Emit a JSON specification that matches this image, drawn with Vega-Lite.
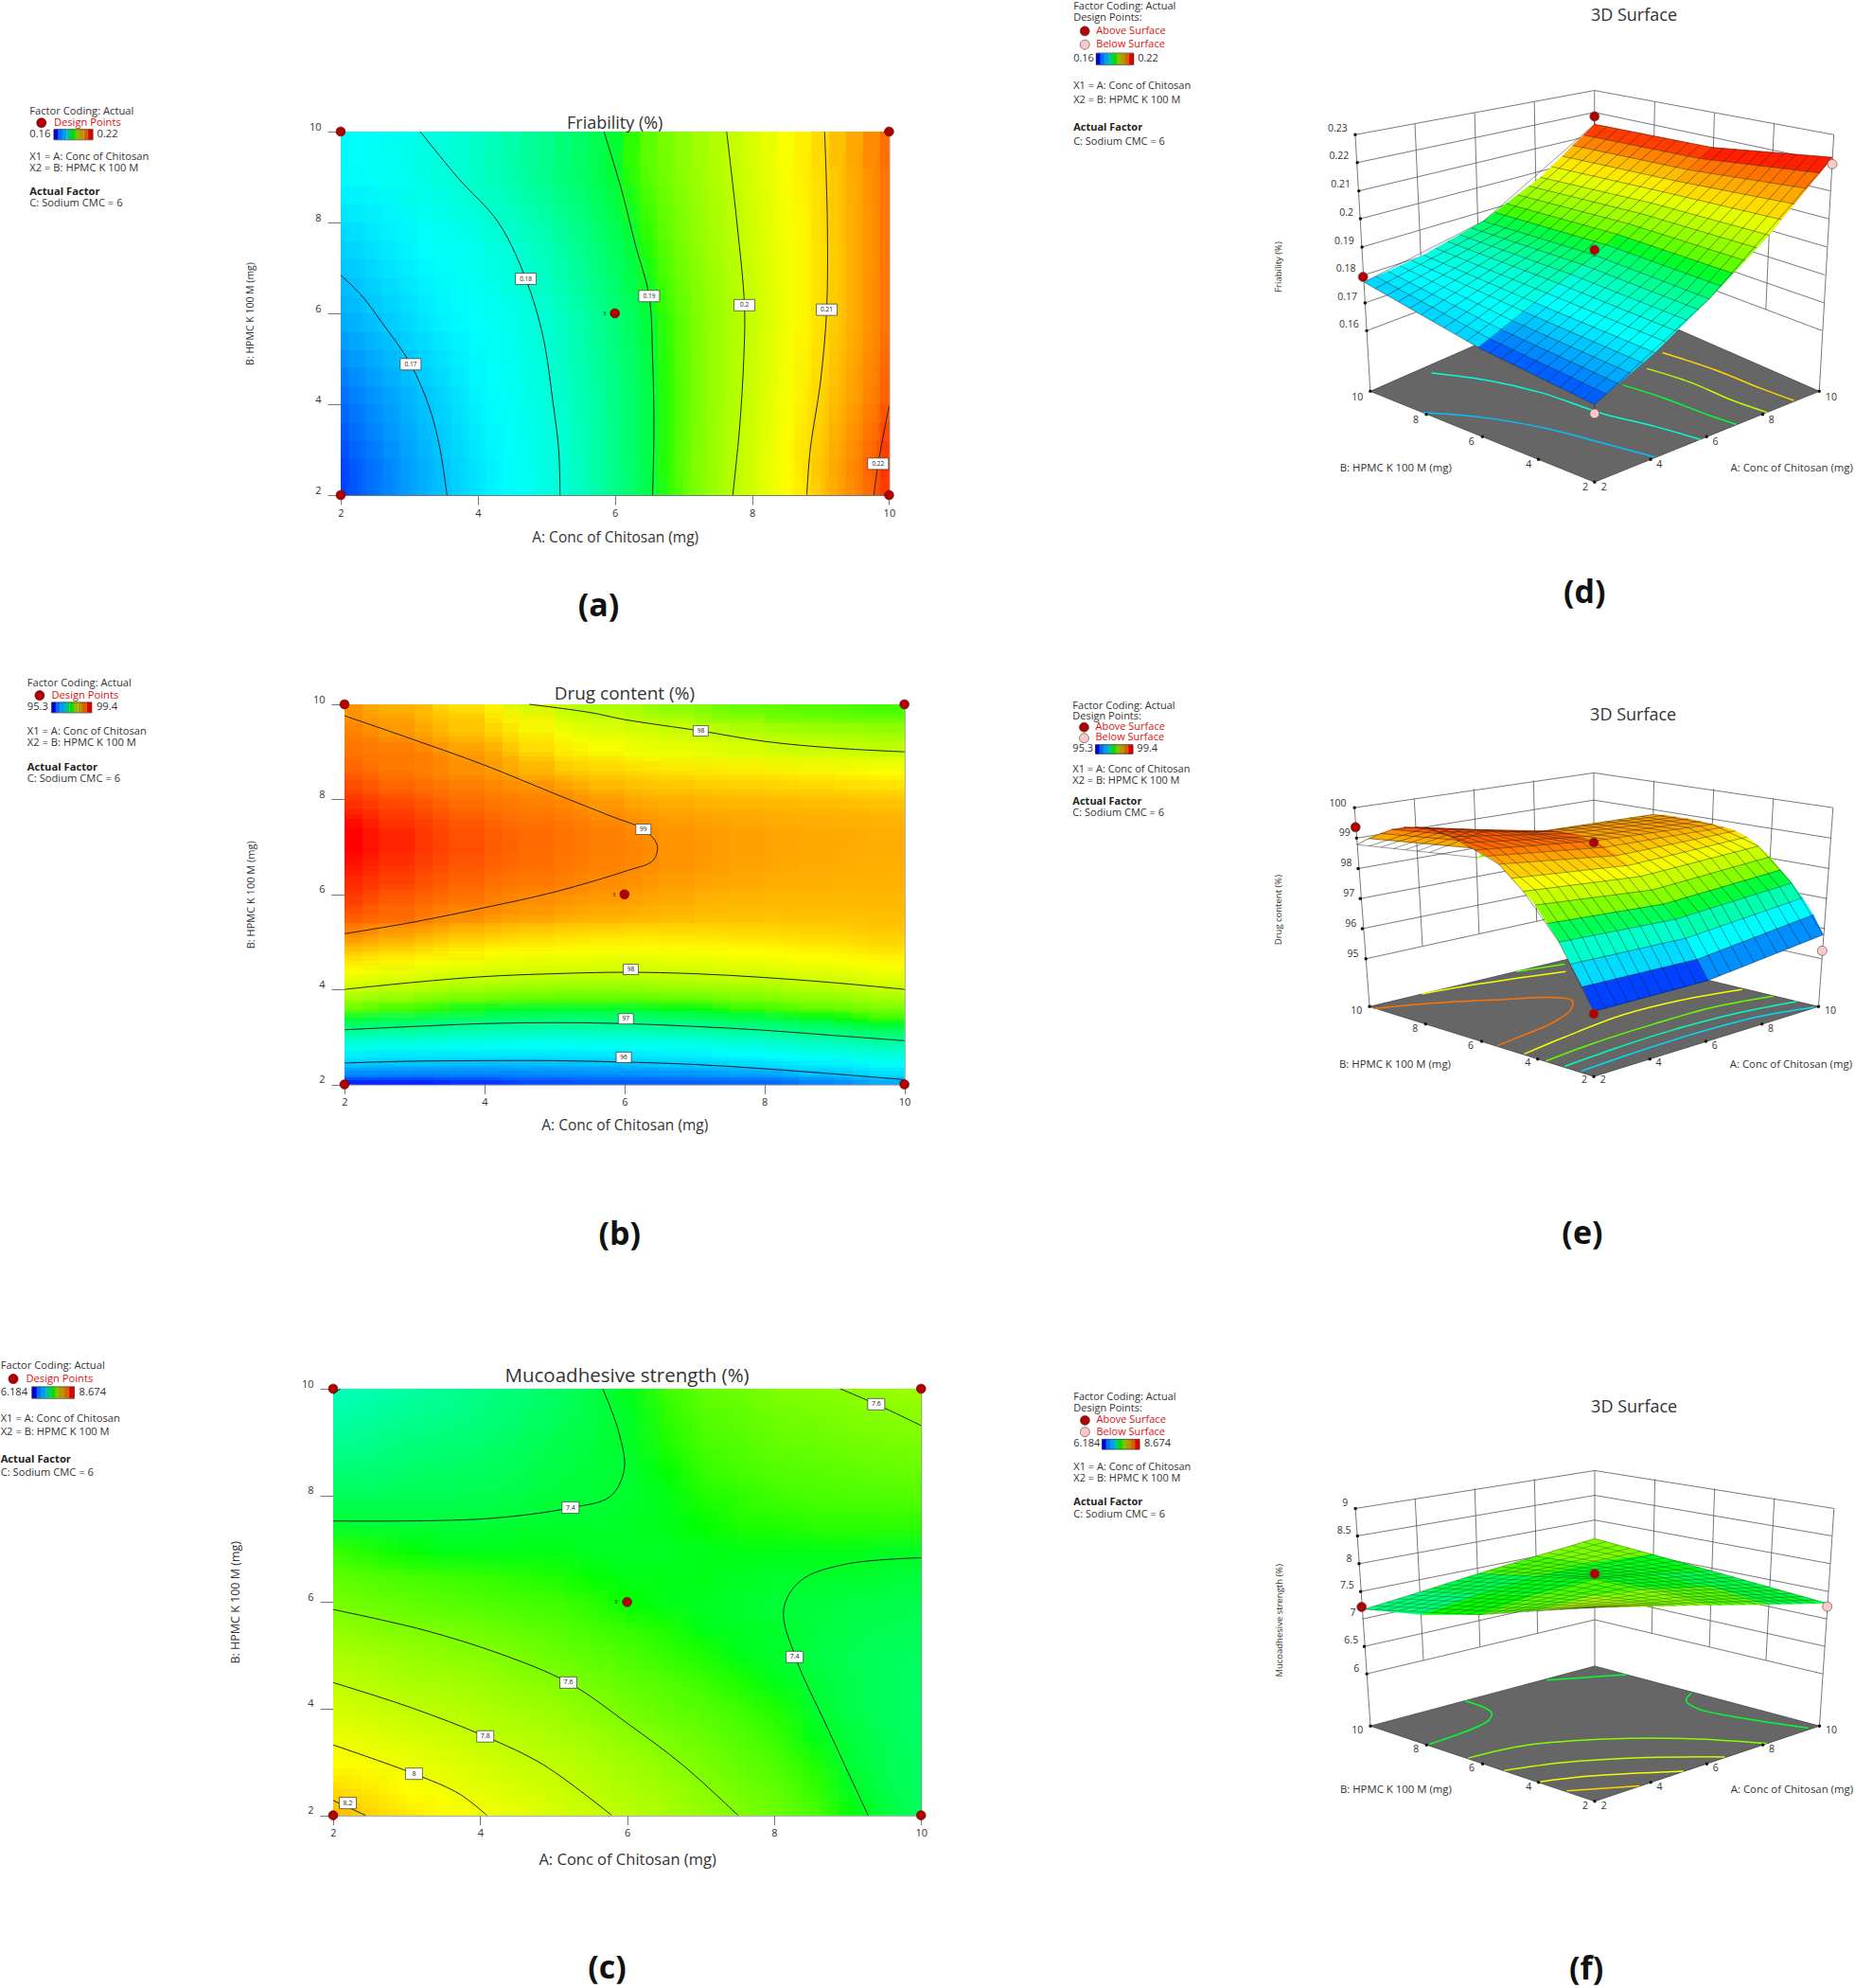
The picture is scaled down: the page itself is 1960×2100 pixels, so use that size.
{"$schema":"https://vega.github.io/schema/vega-lite/v6.json","padding":0,"background":"white","spacing":0,"resolve":{"scale":{"color":"independent","fill":"independent","stroke":"independent"}},
"config":{"view":{"stroke":null},"font":"Open Sans","axis":{"grid":false,"domain":false,"tickColor":"#777","labelFont":"Open Sans","labelFontSize":11,"labelColor":"#333","labelFlush":false,"titleFont":"Open Sans","titleFontWeight":"normal","titleColor":"#333","format":"d"},"title":{"font":"Open Sans","fontWeight":"normal","color":"#333","anchor":"middle"}},
"vconcat":[
{"hconcat":[
{"width":359.4,"height":575.5,"resolve":{"scale":{"color":"independent"}},"encoding":{"x":{"field":"x","type":"quantitative","scale":{"domain":[0,575],"nice":false,"zero":false},"axis":null},"y":{"field":"y","type":"quantitative","scale":{"domain":[1631.8,128],"nice":false,"zero":false},"axis":null}},"layer":[
{"data":{"values":[{"t":"Factor Coding: Actual","x":50,"y":73},{"t":"0.16","x":50,"y":136},{"t":"0.22","x":164,"y":136},{"t":"X1 = A: Conc of Chitosan","x":50,"y":199},{"t":"X2 = B: HPMC K 100 M","x":50,"y":231},{"t":"C: Sodium CMC  = 6","x":50,"y":326}]},"mark":{"type":"text","align":"left","baseline":"middle","fontSize":11.2,"color":"#333"},"encoding":{"text":{"field":"t"}}},
{"data":{"values":[{"t":"Design Points","x":91,"y":104}]},"mark":{"type":"text","align":"left","baseline":"middle","fontSize":11.2,"color":"#e01010"},"encoding":{"text":{"field":"t"}}},
{"data":{"values":[{"t":"Actual Factor","x":50,"y":294}]},"mark":{"type":"text","align":"left","baseline":"middle","fontSize":11.2,"fontWeight":"bold","color":"#222"},"encoding":{"text":{"field":"t"}}},
{"data":{"values":[{"t":"(a)","x":1012,"y":1440}]},"mark":{"type":"text","align":"center","baseline":"middle","fontSize":34,"fontWeight":"bold","color":"#111"},"encoding":{"text":{"field":"t"}}},
{"data":{"values":[{"x":70,"y":104}]},"mark":{"type":"point","filled":true,"size":100,"opacity":1,"color":"#b00000","stroke":"#600","strokeWidth":0.7}},
{"data":{"values":[{"x":95,"y":136,"v":0.16},{"x":102,"y":136,"v":0.1675},{"x":109,"y":136,"v":0.175},{"x":117,"y":136,"v":0.1825},{"x":124,"y":136,"v":0.19},{"x":131,"y":136,"v":0.1975},{"x":138,"y":136,"v":0.205},{"x":146,"y":136,"v":0.2125},{"x":153,"y":136,"v":0.22}]},"mark":{"type":"rect","width":5,"height":11},"encoding":{"color":{"field":"v","type":"quantitative","scale":{"domain":[0.16,0.19,0.22],"range":["#0000e0","#00e000","#e00000"]},"legend":null}}},
{"data":{"values":[{"x":91,"x2":157,"y":122,"y2":151}]},"mark":{"type":"rect","fillOpacity":0,"stroke":"#333","strokeWidth":0.7},"encoding":{"x2":{"field":"x2"},"y2":{"field":"y2"}}}
]},
{"width":579.4,"height":384,"title":{"text":"Friability (%)","fontSize":18,"offset":-12},"view":{"stroke":"#777"},"encoding":{"x":{"field":"a","type":"quantitative","scale":{"domain":[2,10],"nice":false,"zero":false},"axis":{"values":[2,4,6,8,10],"title":"A: Conc of Chitosan (mg)","titleFontSize":15.5,"tickSize":10,"labelPadding":3,"titlePadding":13}},"y":{"field":"b","type":"quantitative","scale":{"domain":[2,10],"nice":false,"zero":false},"axis":{"values":[2,4,6,8,10],"title":"B: HPMC K 100 M  (mg)","titleFontSize":10.5,"tickSize":14,"labelPadding":7,"labelOffset":-5,"titlePadding":57}}},"layer":[
{"data":{"name":"ha","values":[
{"a":2,"b":2.8,"v":0.1615},{"a":2.25,"b":2.8,"v":0.163},{"a":2.5,"b":2.8,"v":0.1644},{"a":2.75,"b":2.8,"v":0.1659},{"a":3,"b":2.8,"v":0.1674},{"a":3.25,"b":2.8,"v":0.1688},{"a":3.5,"b":2.8,"v":0.1703},{"a":3.75,"b":2.8,"v":0.1718},{"a":4,"b":2.8,"v":0.1733},{"a":4.25,"b":2.8,"v":0.1747},{"a":4.5,"b":2.8,"v":0.1762},{"a":4.75,"b":2.8,"v":0.1777},{"a":5,"b":2.8,"v":0.1792},{"a":5.25,"b":2.8,"v":0.1808},{"a":5.5,"b":2.8,"v":0.1826},{"a":5.75,"b":2.8,"v":0.1843},{"a":6,"b":2.8,"v":0.1861},{"a":6.25,"b":2.8,"v":0.1879},{"a":6.5,"b":2.8,"v":0.1896},{"a":6.75,"b":2.8,"v":0.1916},{"a":7,"b":2.8,"v":0.1937},{"a":7.25,"b":2.8,"v":0.1957},{"a":7.5,"b":2.8,"v":0.1978},{"a":7.75,"b":2.8,"v":0.1998},{"a":8,"b":2.8,"v":0.2021},{"a":8.25,"b":2.8,"v":0.2044},{"a":8.5,"b":2.8,"v":0.2067},{"a":8.75,"b":2.8,"v":0.209},{"a":9,"b":2.8,"v":0.2116},{"a":9.25,"b":2.8,"v":0.2141},{"a":9.5,"b":2.8,"v":0.2163},{"a":9.75,"b":2.8,"v":0.2188},{"a":10,"b":2.8,"v":0.2213},
{"a":2,"b":4.4,"v":0.164},{"a":2.25,"b":4.4,"v":0.1653},{"a":2.5,"b":4.4,"v":0.1666},{"a":2.75,"b":4.4,"v":0.1679},{"a":3,"b":4.4,"v":0.1692},{"a":3.25,"b":4.4,"v":0.1705},{"a":3.5,"b":4.4,"v":0.1719},{"a":3.75,"b":4.4,"v":0.1732},{"a":4,"b":4.4,"v":0.1746},{"a":4.25,"b":4.4,"v":0.1759},{"a":4.5,"b":4.4,"v":0.1773},{"a":4.75,"b":4.4,"v":0.1786},{"a":5,"b":4.4,"v":0.18},{"a":5.25,"b":4.4,"v":0.1816},{"a":5.5,"b":4.4,"v":0.1832},{"a":5.75,"b":4.4,"v":0.1848},{"a":6,"b":4.4,"v":0.1864},{"a":6.25,"b":4.4,"v":0.188},{"a":6.5,"b":4.4,"v":0.1896},{"a":6.75,"b":4.4,"v":0.1915},{"a":7,"b":4.4,"v":0.1934},{"a":7.25,"b":4.4,"v":0.1953},{"a":7.5,"b":4.4,"v":0.1973},{"a":7.75,"b":4.4,"v":0.1992},{"a":8,"b":4.4,"v":0.2013},{"a":8.25,"b":4.4,"v":0.2035},{"a":8.5,"b":4.4,"v":0.2057},{"a":8.75,"b":4.4,"v":0.208},{"a":9,"b":4.4,"v":0.2102},{"a":9.25,"b":4.4,"v":0.2124},{"a":9.5,"b":4.4,"v":0.2145},{"a":9.75,"b":4.4,"v":0.2167},{"a":10,"b":4.4,"v":0.2191},
{"a":2,"b":6,"v":0.168},{"a":2.25,"b":6,"v":0.169},{"a":2.5,"b":6,"v":0.17},{"a":2.75,"b":6,"v":0.1711},{"a":3,"b":6,"v":0.1721},{"a":3.25,"b":6,"v":0.1732},{"a":3.5,"b":6,"v":0.1743},{"a":3.75,"b":6,"v":0.1753},{"a":4,"b":6,"v":0.1764},{"a":4.25,"b":6,"v":0.1774},{"a":4.5,"b":6,"v":0.1785},{"a":4.75,"b":6,"v":0.1796},{"a":5,"b":6,"v":0.1809},{"a":5.25,"b":6,"v":0.1824},{"a":5.5,"b":6,"v":0.1839},{"a":5.75,"b":6,"v":0.1855},{"a":6,"b":6,"v":0.187},{"a":6.25,"b":6,"v":0.1885},{"a":6.5,"b":6,"v":0.19},{"a":6.75,"b":6,"v":0.1918},{"a":7,"b":6,"v":0.1936},{"a":7.25,"b":6,"v":0.1954},{"a":7.5,"b":6,"v":0.1971},{"a":7.75,"b":6,"v":0.1989},{"a":8,"b":6,"v":0.2008},{"a":8.25,"b":6,"v":0.2029},{"a":8.5,"b":6,"v":0.2051},{"a":8.75,"b":6,"v":0.2072},{"a":9,"b":6,"v":0.2093},{"a":9.25,"b":6,"v":0.2113},{"a":9.5,"b":6,"v":0.2135},{"a":9.75,"b":6,"v":0.2157},{"a":10,"b":6,"v":0.2178},
{"a":2,"b":7.6,"v":0.171},{"a":2.25,"b":7.6,"v":0.1719},{"a":2.5,"b":7.6,"v":0.1729},{"a":2.75,"b":7.6,"v":0.1738},{"a":3,"b":7.6,"v":0.1747},{"a":3.25,"b":7.6,"v":0.1756},{"a":3.5,"b":7.6,"v":0.1766},{"a":3.75,"b":7.6,"v":0.1775},{"a":4,"b":7.6,"v":0.1784},{"a":4.25,"b":7.6,"v":0.1794},{"a":4.5,"b":7.6,"v":0.1804},{"a":4.75,"b":7.6,"v":0.1818},{"a":5,"b":7.6,"v":0.1831},{"a":5.25,"b":7.6,"v":0.1845},{"a":5.5,"b":7.6,"v":0.1858},{"a":5.75,"b":7.6,"v":0.1872},{"a":6,"b":7.6,"v":0.1885},{"a":6.25,"b":7.6,"v":0.1899},{"a":6.5,"b":7.6,"v":0.1915},{"a":6.75,"b":7.6,"v":0.1931},{"a":7,"b":7.6,"v":0.1948},{"a":7.25,"b":7.6,"v":0.1964},{"a":7.5,"b":7.6,"v":0.198},{"a":7.75,"b":7.6,"v":0.1997},{"a":8,"b":7.6,"v":0.2015},{"a":8.25,"b":7.6,"v":0.2035},{"a":8.5,"b":7.6,"v":0.2054},{"a":8.75,"b":7.6,"v":0.2073},{"a":9,"b":7.6,"v":0.2092},{"a":9.25,"b":7.6,"v":0.2113},{"a":9.5,"b":7.6,"v":0.2134},{"a":9.75,"b":7.6,"v":0.2155},{"a":10,"b":7.6,"v":0.2176},
{"a":2,"b":9.2,"v":0.175},{"a":2.25,"b":9.2,"v":0.1758},{"a":2.5,"b":9.2,"v":0.1766},{"a":2.75,"b":9.2,"v":0.1774},{"a":3,"b":9.2,"v":0.1782},{"a":3.25,"b":9.2,"v":0.179},{"a":3.5,"b":9.2,"v":0.1798},{"a":3.75,"b":9.2,"v":0.1808},{"a":4,"b":9.2,"v":0.1819},{"a":4.25,"b":9.2,"v":0.1829},{"a":4.5,"b":9.2,"v":0.1839},{"a":4.75,"b":9.2,"v":0.1849},{"a":5,"b":9.2,"v":0.186},{"a":5.25,"b":9.2,"v":0.187},{"a":5.5,"b":9.2,"v":0.188},{"a":5.75,"b":9.2,"v":0.1891},{"a":6,"b":9.2,"v":0.1901},{"a":6.25,"b":9.2,"v":0.1916},{"a":6.5,"b":9.2,"v":0.1931},{"a":6.75,"b":9.2,"v":0.1945},{"a":7,"b":9.2,"v":0.196},{"a":7.25,"b":9.2,"v":0.1975},{"a":7.5,"b":9.2,"v":0.1989},{"a":7.75,"b":9.2,"v":0.2005},{"a":8,"b":9.2,"v":0.2023},{"a":8.25,"b":9.2,"v":0.2041},{"a":8.5,"b":9.2,"v":0.2059},{"a":8.75,"b":9.2,"v":0.2077},{"a":9,"b":9.2,"v":0.2095},{"a":9.25,"b":9.2,"v":0.2116},{"a":9.5,"b":9.2,"v":0.2136},{"a":9.75,"b":9.2,"v":0.2157},{"a":10,"b":9.2,"v":0.2177}
]},"mark":{"type":"rect","width":19,"height":78,"clip":true},"encoding":{"color":{"field":"v","type":"quantitative","scale":{"domain":[0.16,0.1755,0.191,0.2065,0.222],"range":["#0000ff","#00ffff","#00ff00","#ffff00","#ff0000"],"clamp":true},"legend":null}}},
{"data":{"name":"ha"},"mark":{"type":"rect","width":18.15,"height":76.8,"clip":true,"xOffset":9,"yOffset":38.4,"opacity":0.5},"encoding":{"color":{"field":"v","type":"quantitative","scale":{"domain":[0.16,0.1755,0.191,0.2065,0.222],"range":["#0000ff","#00ffff","#00ff00","#ffff00","#ff0000"],"clamp":true},"legend":null}}},
{"data":{"name":"ha"},"mark":{"type":"rect","width":18.15,"height":76.8,"clip":true,"yOffset":-19.2,"opacity":0.33},"encoding":{"color":{"field":"v","type":"quantitative","scale":{"domain":[0.16,0.1755,0.191,0.2065,0.222],"range":["#0000ff","#00ffff","#00ff00","#ffff00","#ff0000"],"clamp":true},"legend":null}}},
{"data":{"name":"ha"},"mark":{"type":"rect","width":18.15,"height":76.8,"clip":true,"xOffset":-4.5,"yOffset":19.2,"opacity":0.25},"encoding":{"color":{"field":"v","type":"quantitative","scale":{"domain":[0.16,0.1755,0.191,0.2065,0.222],"range":["#0000ff","#00ffff","#00ff00","#ffff00","#ff0000"],"clamp":true},"legend":null}}},
{"data":{"values":[
{"k":"17","a":2,"b":6.84},{"k":"17","a":2.3,"b":6.4},{"k":"17","a":2.6,"b":5.8},{"k":"17","a":3.02,"b":4.88},{"k":"17","a":3.3,"b":3.9},{"k":"17","a":3.45,"b":3},{"k":"17","a":3.55,"b":2},
{"k":"18","a":3.16,"b":10},{"k":"18","a":3.7,"b":9},{"k":"18","a":4.3,"b":8},{"k":"18","a":4.7,"b":6.76},{"k":"18","a":4.95,"b":5.5},{"k":"18","a":5.1,"b":4},{"k":"18","a":5.18,"b":3},{"k":"18","a":5.2,"b":2},
{"k":"19","a":5.84,"b":10},{"k":"19","a":6.1,"b":8.7},{"k":"19","a":6.3,"b":7.5},{"k":"19","a":6.5,"b":6.38},{"k":"19","a":6.55,"b":5},{"k":"19","a":6.57,"b":3.5},{"k":"19","a":6.55,"b":2},
{"k":"20","a":7.63,"b":10},{"k":"20","a":7.78,"b":8},{"k":"20","a":7.89,"b":6.18},{"k":"20","a":7.88,"b":5},{"k":"20","a":7.82,"b":3.5},{"k":"20","a":7.72,"b":2},
{"k":"21","a":9.06,"b":10},{"k":"21","a":9.1,"b":8},{"k":"21","a":9.09,"b":6.08},{"k":"21","a":9,"b":4.5},{"k":"21","a":8.85,"b":3},{"k":"21","a":8.8,"b":2},
{"k":"22","a":10,"b":3.95},{"k":"22","a":9.84,"b":2.69},{"k":"22","a":9.78,"b":2}
]},"mark":{"type":"line","order":false,"interpolate":"catmull-rom","color":"#222","strokeWidth":1},"encoding":{"detail":{"field":"k"}}},
{"data":{"name":"la","values":[{"t":"0.17","a":3.02,"b":4.88},{"t":"0.18","a":4.7,"b":6.76},{"t":"0.19","a":6.5,"b":6.38},{"t":"0.2","a":7.89,"b":6.18},{"t":"0.21","a":9.09,"b":6.08},{"t":"0.22","a":9.84,"b":2.69}]},"mark":{"type":"rect","width":22,"height":12,"fill":"white","stroke":"#333","strokeWidth":0.7}},
{"data":{"name":"la"},"mark":{"type":"text","fontSize":6.5,"color":"#222"},"encoding":{"text":{"field":"t"}}},
{"data":{"values":[{"a":2,"b":2},{"a":2,"b":10},{"a":10,"b":2},{"a":10,"b":10},{"a":6,"b":6}]},"mark":{"type":"point","filled":true,"size":95,"opacity":1,"color":"#b00000","stroke":"#600","strokeWidth":0.7}},
{"data":{"values":[{"t":"3","a":5.85,"b":6}]},"mark":{"type":"text","fontSize":6,"color":"#222"},"encoding":{"text":{"field":"t"}}}
]},
{"width":1021.2,"height":575.5,"resolve":{"scale":{"color":"independent"}},"encoding":{"x":{"field":"x","type":"quantitative","scale":{"domain":[-294,1568],"nice":false,"zero":false},"axis":null},"y":{"field":"y","type":"quantitative","scale":{"domain":[1697.5,330.2],"nice":false,"zero":false},"axis":null}},"layer":[
{"data":{"values":[
{"x":603,"y":338,"x2":1064,"y2":227},{"x":1525,"y":338,"x2":1064,"y2":227},{"x":607,"y":408,"x2":1064,"y2":282},{"x":1521,"y":408,"x2":1064,"y2":282},{"x":610,"y":479,"x2":1064,"y2":338},{"x":1518,"y":479,"x2":1064,"y2":338},{"x":613,"y":549,"x2":1064,"y2":394},{"x":1515,"y":549,"x2":1064,"y2":394},{"x":616,"y":620,"x2":1064,"y2":449},{"x":1512,"y":620,"x2":1064,"y2":449},{"x":620,"y":690,"x2":1064,"y2":505},{"x":1508,"y":690,"x2":1064,"y2":505},{"x":622,"y":760,"x2":1064,"y2":560},{"x":1506,"y":760,"x2":1064,"y2":560},{"x":625,"y":830,"x2":1064,"y2":615},{"x":1503,"y":830,"x2":1064,"y2":615},
{"x":603,"y":338,"x2":632,"y2":982},{"x":1064,"y":227,"x2":1064,"y2":735},{"x":1525,"y":338,"x2":1497,"y2":982},
{"x":718,"y":310,"x2":734,"y2":777},{"x":833,"y":283,"x2":843,"y2":724},{"x":948,"y":255,"x2":954,"y2":669},{"x":1180,"y":255,"x2":1174,"y2":669},{"x":1295,"y":283,"x2":1285,"y2":724},{"x":1410,"y":310,"x2":1394,"y2":777}
]},"mark":{"type":"rule","color":"#555","strokeWidth":0.8},"encoding":{"x2":{"field":"x2"},"y2":{"field":"y2"}}},
{"data":{"values":[{"x":632,"y":982},{"x":1064,"y":1210},{"x":1497,"y":982},{"x":1064,"y":735},{"x":632,"y":982}]},"mark":{"type":"line","order":false,"fill":"#666666","stroke":"#444","strokeWidth":0.8}},
{"data":{"values":[
{"v":0.17,"x":732,"y":1035},{"v":0.17,"x":850,"y":1048},{"v":0.17,"x":970,"y":1075},{"v":0.17,"x":1080,"y":1112},{"v":0.17,"x":1180,"y":1147},
{"v":0.18,"x":750,"y":936},{"v":0.18,"x":860,"y":955},{"v":0.18,"x":960,"y":985},{"v":0.18,"x":1080,"y":1038},{"v":0.18,"x":1180,"y":1070},{"v":0.18,"x":1268,"y":1103},
{"v":0.19,"x":1118,"y":966},{"v":0.19,"x":1200,"y":1000},{"v":0.19,"x":1280,"y":1040},{"v":0.19,"x":1337,"y":1065},
{"v":0.2,"x":1165,"y":925},{"v":0.2,"x":1250,"y":960},{"v":0.2,"x":1330,"y":1005},{"v":0.2,"x":1397,"y":1035},
{"v":0.21,"x":1195,"y":885},{"v":0.21,"x":1300,"y":930},{"v":0.21,"x":1385,"y":975},{"v":0.21,"x":1448,"y":1005}
]},"mark":{"type":"line","order":false,"interpolate":"catmull-rom","strokeWidth":1.5},"encoding":{"detail":{"field":"v"},"color":{"field":"v","type":"quantitative","scale":{"domain":[0.16,0.1755,0.191,0.2065,0.222],"range":["#0000ff","#00ffff","#00ff00","#ffff00","#ff0000"]},"legend":null}}},
{"data":{"values":[
{"p":1,"x":1064,"y":1015,"v":0.163},{"p":1,"x":1087,"y":989,"v":0.163},{"p":1,"x":862,"y":850,"v":0.163},{"p":1,"x":840,"y":872,"v":0.163},
{"p":2,"x":1087,"y":989,"v":0.1655},{"p":2,"x":1110,"y":963,"v":0.1655},{"p":2,"x":884,"y":827,"v":0.1655},{"p":2,"x":862,"y":850,"v":0.1655},
{"p":3,"x":1110,"y":963,"v":0.168},{"p":3,"x":1134,"y":937,"v":0.168},{"p":3,"x":906,"y":805,"v":0.168},{"p":3,"x":884,"y":827,"v":0.168},
{"p":4,"x":1134,"y":937,"v":0.1705},{"p":4,"x":1157,"y":911,"v":0.1705},{"p":4,"x":928,"y":782,"v":0.1705},{"p":4,"x":906,"y":805,"v":0.1705},
{"p":5,"x":1157,"y":911,"v":0.173},{"p":5,"x":1180,"y":885,"v":0.173},{"p":5,"x":950,"y":760,"v":0.173},{"p":5,"x":928,"y":782,"v":0.173},
{"p":6,"x":1180,"y":885,"v":0.1755},{"p":6,"x":1201,"y":858,"v":0.1755},{"p":6,"x":973,"y":736,"v":0.1755},{"p":6,"x":950,"y":760,"v":0.1755},
{"p":7,"x":1201,"y":858,"v":0.1778},{"p":7,"x":1222,"y":831,"v":0.1778},{"p":7,"x":996,"y":712,"v":0.1778},{"p":7,"x":973,"y":736,"v":0.1778},
{"p":8,"x":1222,"y":831,"v":0.18},{"p":8,"x":1243,"y":804,"v":0.18},{"p":8,"x":1018,"y":688,"v":0.18},{"p":8,"x":996,"y":712,"v":0.18},
{"p":9,"x":1243,"y":804,"v":0.1826},{"p":9,"x":1264,"y":777,"v":0.1826},{"p":9,"x":1041,"y":664,"v":0.1826},{"p":9,"x":1018,"y":688,"v":0.1826},
{"p":10,"x":1264,"y":777,"v":0.1851},{"p":10,"x":1285,"y":750,"v":0.1851},{"p":10,"x":1064,"y":640,"v":0.1851},{"p":10,"x":1041,"y":664,"v":0.1851},
{"p":11,"x":1285,"y":750,"v":0.1877},{"p":11,"x":1308,"y":718,"v":0.1877},{"p":11,"x":1086,"y":614,"v":0.1877},{"p":11,"x":1064,"y":640,"v":0.1877},
{"p":12,"x":1308,"y":718,"v":0.1904},{"p":12,"x":1331,"y":686,"v":0.1904},{"p":12,"x":1108,"y":588,"v":0.1904},{"p":12,"x":1086,"y":614,"v":0.1904},
{"p":13,"x":1331,"y":686,"v":0.1934},{"p":13,"x":1354,"y":654,"v":0.1934},{"p":13,"x":1131,"y":562,"v":0.1934},{"p":13,"x":1108,"y":588,"v":0.1934},
{"p":14,"x":1354,"y":654,"v":0.1965},{"p":14,"x":1377,"y":622,"v":0.1965},{"p":14,"x":1153,"y":536,"v":0.1965},{"p":14,"x":1131,"y":562,"v":0.1965},
{"p":15,"x":1377,"y":622,"v":0.1996},{"p":15,"x":1400,"y":590,"v":0.1996},{"p":15,"x":1175,"y":510,"v":0.1996},{"p":15,"x":1153,"y":536,"v":0.1996},
{"p":16,"x":1400,"y":590,"v":0.2035},{"p":16,"x":1424,"y":551,"v":0.2035},{"p":16,"x":1198,"y":482,"v":0.2035},{"p":16,"x":1175,"y":510,"v":0.2035},
{"p":17,"x":1424,"y":551,"v":0.2096},{"p":17,"x":1449,"y":512,"v":0.2096},{"p":17,"x":1221,"y":454,"v":0.2096},{"p":17,"x":1198,"y":482,"v":0.2096},
{"p":18,"x":1449,"y":512,"v":0.2135},{"p":18,"x":1473,"y":473,"v":0.2135},{"p":18,"x":1244,"y":426,"v":0.2135},{"p":18,"x":1221,"y":454,"v":0.2135},
{"p":19,"x":1473,"y":473,"v":0.2175},{"p":19,"x":1498,"y":434,"v":0.2175},{"p":19,"x":1267,"y":398,"v":0.2175},{"p":19,"x":1244,"y":426,"v":0.2175},
{"p":20,"x":1498,"y":434,"v":0.2215},{"p":20,"x":1522,"y":395,"v":0.2215},{"p":20,"x":1290,"y":370,"v":0.2215},{"p":20,"x":1267,"y":398,"v":0.2215},
{"p":21,"x":840,"y":872,"v":0.1717},{"p":21,"x":862,"y":850,"v":0.1717},{"p":21,"x":643,"y":694,"v":0.1717},{"p":21,"x":620,"y":708,"v":0.1717},
{"p":22,"x":862,"y":850,"v":0.1733},{"p":22,"x":884,"y":827,"v":0.1733},{"p":22,"x":666,"y":681,"v":0.1733},{"p":22,"x":643,"y":694,"v":0.1733},
{"p":23,"x":884,"y":827,"v":0.1747},{"p":23,"x":906,"y":805,"v":0.1747},{"p":23,"x":689,"y":667,"v":0.1747},{"p":23,"x":666,"y":681,"v":0.1747},
{"p":24,"x":906,"y":805,"v":0.1762},{"p":24,"x":928,"y":782,"v":0.1762},{"p":24,"x":712,"y":654,"v":0.1762},{"p":24,"x":689,"y":667,"v":0.1762},
{"p":25,"x":928,"y":782,"v":0.1777},{"p":25,"x":950,"y":760,"v":0.1777},{"p":25,"x":735,"y":640,"v":0.1777},{"p":25,"x":712,"y":654,"v":0.1777},
{"p":26,"x":950,"y":760,"v":0.1792},{"p":26,"x":973,"y":736,"v":0.1792},{"p":26,"x":758,"y":623,"v":0.1792},{"p":26,"x":735,"y":640,"v":0.1792},
{"p":27,"x":973,"y":736,"v":0.1809},{"p":27,"x":996,"y":712,"v":0.1809},{"p":27,"x":781,"y":606,"v":0.1809},{"p":27,"x":758,"y":623,"v":0.1809},
{"p":28,"x":996,"y":712,"v":0.1831},{"p":28,"x":1018,"y":688,"v":0.1831},{"p":28,"x":804,"y":589,"v":0.1831},{"p":28,"x":781,"y":606,"v":0.1831},
{"p":29,"x":1018,"y":688,"v":0.1853},{"p":29,"x":1041,"y":664,"v":0.1853},{"p":29,"x":827,"y":572,"v":0.1853},{"p":29,"x":804,"y":589,"v":0.1853},
{"p":30,"x":1041,"y":664,"v":0.1875},{"p":30,"x":1064,"y":640,"v":0.1875},{"p":30,"x":850,"y":555,"v":0.1875},{"p":30,"x":827,"y":572,"v":0.1875},
{"p":31,"x":1064,"y":640,"v":0.1896},{"p":31,"x":1086,"y":614,"v":0.1896},{"p":31,"x":872,"y":533,"v":0.1896},{"p":31,"x":850,"y":555,"v":0.1896},
{"p":32,"x":1086,"y":614,"v":0.1921},{"p":32,"x":1108,"y":588,"v":0.1921},{"p":32,"x":894,"y":511,"v":0.1921},{"p":32,"x":872,"y":533,"v":0.1921},
{"p":33,"x":1108,"y":588,"v":0.1948},{"p":33,"x":1131,"y":562,"v":0.1948},{"p":33,"x":916,"y":489,"v":0.1948},{"p":33,"x":894,"y":511,"v":0.1948},
{"p":34,"x":1131,"y":562,"v":0.1974},{"p":34,"x":1153,"y":536,"v":0.1974},{"p":34,"x":938,"y":467,"v":0.1974},{"p":34,"x":916,"y":489,"v":0.1974},
{"p":35,"x":1153,"y":536,"v":0.2},{"p":35,"x":1175,"y":510,"v":0.2},{"p":35,"x":960,"y":445,"v":0.2},{"p":35,"x":938,"y":467,"v":0.2},
{"p":36,"x":1175,"y":510,"v":0.2036},{"p":36,"x":1198,"y":482,"v":0.2036},{"p":36,"x":981,"y":418,"v":0.2036},{"p":36,"x":960,"y":445,"v":0.2036},
{"p":37,"x":1198,"y":482,"v":0.2085},{"p":37,"x":1221,"y":454,"v":0.2085},{"p":37,"x":1002,"y":392,"v":0.2085},{"p":37,"x":981,"y":418,"v":0.2085},
{"p":38,"x":1221,"y":454,"v":0.212},{"p":38,"x":1244,"y":426,"v":0.212},{"p":38,"x":1022,"y":365,"v":0.212},{"p":38,"x":1002,"y":392,"v":0.212},
{"p":39,"x":1244,"y":426,"v":0.2165},{"p":39,"x":1267,"y":398,"v":0.2165},{"p":39,"x":1043,"y":339,"v":0.2165},{"p":39,"x":1022,"y":365,"v":0.2165},
{"p":40,"x":1267,"y":398,"v":0.2205},{"p":40,"x":1290,"y":370,"v":0.2205},{"p":40,"x":1064,"y":312,"v":0.2205},{"p":40,"x":1043,"y":339,"v":0.2205}
]},"mark":{"type":"line","order":false,"strokeWidth":0.6},"encoding":{"detail":{"field":"p"},"fill":{"field":"v","type":"quantitative","scale":{"domain":[0.16,0.1755,0.191,0.2065,0.222],"range":["#0000ff","#00ffff","#00ff00","#ffff00","#ff0000"]},"legend":null},"stroke":{"field":"v","type":"quantitative","scale":{"domain":[0.16,0.1755,0.191,0.2065,0.222],"range":["#0000ff","#00ffff","#00ff00","#ffff00","#ff0000"]},"legend":null}}},
{"data":{"values":[
{"l":"a0","x":1064,"y":1015},{"l":"a0","x":840,"y":872},{"l":"a0","x":620,"y":708},{"l":"a1","x":1087,"y":989},{"l":"a1","x":862,"y":850},{"l":"a1","x":643,"y":694},{"l":"a2","x":1110,"y":963},{"l":"a2","x":884,"y":827},{"l":"a2","x":666,"y":681},{"l":"a3","x":1134,"y":937},{"l":"a3","x":906,"y":805},{"l":"a3","x":689,"y":667},{"l":"a4","x":1157,"y":911},{"l":"a4","x":928,"y":782},{"l":"a4","x":712,"y":654},{"l":"a5","x":1180,"y":885},{"l":"a5","x":950,"y":760},{"l":"a5","x":735,"y":640},{"l":"a6","x":1201,"y":858},{"l":"a6","x":973,"y":736},{"l":"a6","x":758,"y":623},{"l":"a7","x":1222,"y":831},{"l":"a7","x":996,"y":712},{"l":"a7","x":781,"y":606},{"l":"a8","x":1243,"y":804},{"l":"a8","x":1018,"y":688},{"l":"a8","x":804,"y":589},{"l":"a9","x":1264,"y":777},{"l":"a9","x":1041,"y":664},{"l":"a9","x":827,"y":572},{"l":"a10","x":1285,"y":750},{"l":"a10","x":1064,"y":640},{"l":"a10","x":850,"y":555},{"l":"a11","x":1308,"y":718},{"l":"a11","x":1086,"y":614},{"l":"a11","x":872,"y":533},{"l":"a12","x":1331,"y":686},{"l":"a12","x":1108,"y":588},{"l":"a12","x":894,"y":511},{"l":"a13","x":1354,"y":654},{"l":"a13","x":1131,"y":562},{"l":"a13","x":916,"y":489},{"l":"a14","x":1377,"y":622},{"l":"a14","x":1153,"y":536},{"l":"a14","x":938,"y":467},{"l":"a15","x":1400,"y":590},{"l":"a15","x":1175,"y":510},{"l":"a15","x":960,"y":445},{"l":"a16","x":1424,"y":551},{"l":"a16","x":1198,"y":482},{"l":"a16","x":981,"y":418},{"l":"a17","x":1449,"y":512},{"l":"a17","x":1221,"y":454},{"l":"a17","x":1002,"y":392},{"l":"a18","x":1473,"y":473},{"l":"a18","x":1244,"y":426},{"l":"a18","x":1022,"y":365},{"l":"a19","x":1498,"y":434},{"l":"a19","x":1267,"y":398},{"l":"a19","x":1043,"y":339},{"l":"a20","x":1522,"y":395},{"l":"a20","x":1290,"y":370},{"l":"a20","x":1064,"y":312},
{"l":"b0","x":1064,"y":1015},{"l":"b0","x":1285,"y":750},{"l":"b0","x":1522,"y":395},{"l":"b1","x":1042,"y":1001},{"l":"b1","x":1263,"y":739},{"l":"b1","x":1499,"y":392},{"l":"b2","x":1019,"y":986},{"l":"b2","x":1241,"y":728},{"l":"b2","x":1476,"y":390},{"l":"b3","x":997,"y":972},{"l":"b3","x":1219,"y":717},{"l":"b3","x":1452,"y":387},{"l":"b4","x":974,"y":958},{"l":"b4","x":1197,"y":706},{"l":"b4","x":1429,"y":385},{"l":"b5","x":952,"y":944},{"l":"b5","x":1174,"y":695},{"l":"b5","x":1406,"y":382},{"l":"b6","x":930,"y":929},{"l":"b6","x":1152,"y":684},{"l":"b6","x":1383,"y":380},{"l":"b7","x":907,"y":915},{"l":"b7","x":1130,"y":673},{"l":"b7","x":1360,"y":377},{"l":"b8","x":885,"y":901},{"l":"b8","x":1108,"y":662},{"l":"b8","x":1336,"y":375},{"l":"b9","x":862,"y":886},{"l":"b9","x":1086,"y":651},{"l":"b9","x":1313,"y":372},{"l":"b10","x":840,"y":872},{"l":"b10","x":1064,"y":640},{"l":"b10","x":1290,"y":370},{"l":"b11","x":818,"y":856},{"l":"b11","x":1043,"y":632},{"l":"b11","x":1267,"y":364},{"l":"b12","x":796,"y":839},{"l":"b12","x":1021,"y":623},{"l":"b12","x":1245,"y":358},{"l":"b13","x":774,"y":823},{"l":"b13","x":1000,"y":615},{"l":"b13","x":1222,"y":353},{"l":"b14","x":752,"y":806},{"l":"b14","x":978,"y":606},{"l":"b14","x":1200,"y":347},{"l":"b15","x":730,"y":790},{"l":"b15","x":957,"y":598},{"l":"b15","x":1177,"y":341},{"l":"b16","x":708,"y":774},{"l":"b16","x":936,"y":589},{"l":"b16","x":1154,"y":335},{"l":"b17","x":686,"y":757},{"l":"b17","x":914,"y":581},{"l":"b17","x":1132,"y":329},{"l":"b18","x":664,"y":741},{"l":"b18","x":893,"y":572},{"l":"b18","x":1109,"y":324},{"l":"b19","x":642,"y":724},{"l":"b19","x":871,"y":564},{"l":"b19","x":1087,"y":318},{"l":"b20","x":620,"y":708},{"l":"b20","x":850,"y":555},{"l":"b20","x":1064,"y":312}
]},"mark":{"type":"line","order":false,"color":"#1a1a1a","strokeWidth":0.6,"opacity":0.75},"encoding":{"detail":{"field":"l"}}},
{"data":{"values":[{"x":1064,"y":627,"x2":1064,"y2":645},{"x":1064,"y":292,"x2":1064,"y2":312},{"x":1064,"y":1015,"x2":1064,"y2":1038}]},"mark":{"type":"rule","color":"#333","strokeWidth":0.8},"encoding":{"x2":{"field":"x2"},"y2":{"field":"y2"}}},
{"data":{"values":[{"x":632,"y":982},{"x":740,"y":1040},{"x":848,"y":1096},{"x":956,"y":1153},{"x":1064,"y":1210},{"x":1172,"y":1153},{"x":1280,"y":1096},{"x":1388,"y":1040},{"x":1497,"y":982},{"x":603,"y":338},{"x":607,"y":408},{"x":610,"y":479},{"x":613,"y":549},{"x":616,"y":620},{"x":622,"y":760},{"x":625,"y":830}]},"mark":{"type":"point","filled":true,"size":12,"opacity":1,"color":"#111"}},
{"data":{"values":[{"k":"above","x":618,"y":695},{"k":"above","x":1064,"y":292},{"k":"above","x":1064,"y":627},{"k":"below","x":1522,"y":412},{"k":"below","x":1064,"y":1038},{"k":"above","x":82,"y":78},{"k":"below","x":82,"y":112}]},"mark":{"type":"point","filled":true,"size":100,"opacity":1,"stroke":"#555","strokeWidth":0.7},"encoding":{"color":{"field":"k","type":"nominal","scale":{"domain":["above","below"],"range":["#b00000","#ffc8c8"]},"legend":null}}},
{"data":{"values":[{"x":108,"y":148,"v":0.16},{"x":116,"y":148,"v":0.1675},{"x":124,"y":148,"v":0.175},{"x":132,"y":148,"v":0.1825},{"x":140,"y":148,"v":0.19},{"x":148,"y":148,"v":0.1975},{"x":156,"y":148,"v":0.205},{"x":164,"y":148,"v":0.2125},{"x":172,"y":148,"v":0.22}]},"mark":{"type":"rect","width":5,"height":12},"encoding":{"color":{"field":"v","type":"quantitative","scale":{"domain":[0.16,0.19,0.22],"range":["#0000e0","#00e000","#e00000"]},"legend":null}}},
{"data":{"values":[{"x":104,"x2":176,"y":133,"y2":163}]},"mark":{"type":"rect","fillOpacity":0,"stroke":"#333","strokeWidth":0.7},"encoding":{"x2":{"field":"x2"},"y2":{"field":"y2"}}},
{"data":{"values":[{"t":"Factor Coding: Actual","x":60,"y":16},{"t":"Design Points:","x":60,"y":44},{"t":"0.16","x":60,"y":148},{"t":"0.22","x":184,"y":148},{"t":"X1 = A: Conc of Chitosan","x":60,"y":216},{"t":"X2 = B: HPMC K 100 M","x":60,"y":252},{"t":"C: Sodium CMC  = 6","x":60,"y":357}]},"mark":{"type":"text","align":"left","baseline":"middle","fontSize":11,"color":"#333"},"encoding":{"text":{"field":"t"}}},
{"data":{"values":[{"t":"Above Surface","x":104,"y":78},{"t":"Below Surface","x":104,"y":112}]},"mark":{"type":"text","align":"left","baseline":"middle","fontSize":11,"color":"#e01010"},"encoding":{"text":{"field":"t"}}},
{"data":{"values":[{"t":"Actual Factor","x":60,"y":320}]},"mark":{"type":"text","align":"left","baseline":"middle","fontSize":11,"fontWeight":"bold","color":"#222"},"encoding":{"text":{"field":"t"}}},
{"data":{"values":[{"t":"0.23","x":569,"y":323},{"t":"0.22","x":572,"y":393},{"t":"0.21","x":575,"y":464},{"t":"0.2","x":586,"y":534},{"t":"0.19","x":582,"y":605},{"t":"0.18","x":585,"y":675},{"t":"0.17","x":588,"y":745},{"t":"0.16","x":591,"y":815},{"t":"10","x":607,"y":999},{"t":"8","x":720,"y":1056},{"t":"6","x":827,"y":1110},{"t":"4","x":937,"y":1166},{"t":"2","x":1046,"y":1224},{"t":"2","x":1082,"y":1224},{"t":"4","x":1189,"y":1166},{"t":"6","x":1297,"y":1110},{"t":"8","x":1405,"y":1056},{"t":"10","x":1520,"y":999}]},"mark":{"type":"text","fontSize":10.5,"color":"#333"},"encoding":{"text":{"field":"t"}}},
{"data":{"values":[{"t":"B: HPMC K 100 M  (mg)","x":681,"y":1175},{"t":"A: Conc of Chitosan (mg)","x":1444,"y":1175}]},"mark":{"type":"text","fontSize":11.4,"color":"#333"},"encoding":{"text":{"field":"t"}}},
{"data":{"values":[{"t":"Friability (%)","x":456,"y":670}]},"mark":{"type":"text","angle":270,"fontSize":9.5,"color":"#333"},"encoding":{"text":{"field":"t"}}},
{"data":{"values":[{"t":"3D Surface","x":1140,"y":40}]},"mark":{"type":"text","fontSize":18,"color":"#333"},"encoding":{"text":{"field":"t"}}},
{"data":{"values":[{"t":"(d)","x":1045,"y":1490}]},"mark":{"type":"text","fontSize":34,"fontWeight":"bold","color":"#111"},"encoding":{"text":{"field":"t"}}}
]}
],"spacing":0,"bounds":"flush","resolve":{"scale":{"color":"independent","fill":"independent","stroke":"independent"}}},
{"hconcat":[
{"width":364,"height":692,"resolve":{"scale":{"color":"independent"}},"encoding":{"x":{"field":"x","type":"quantitative","scale":{"domain":[0,582],"nice":false,"zero":false},"axis":null},"y":{"field":"y","type":"quantitative","scale":{"domain":[1799,104],"nice":false,"zero":false},"axis":null}},"layer":[
{"data":{"values":[{"t":"Factor Coding: Actual","x":46,"y":50},{"t":"95.3","x":46,"y":112},{"t":"99.4","x":163,"y":112},{"t":"X1 = A: Conc of Chitosan","x":46,"y":174},{"t":"X2 = B: HPMC K 100 M","x":46,"y":205},{"t":"C: Sodium CMC  = 6","x":46,"y":298}]},"mark":{"type":"text","align":"left","baseline":"middle","fontSize":11.2,"color":"#333"},"encoding":{"text":{"field":"t"}}},
{"data":{"values":[{"t":"Design Points","x":87,"y":81}]},"mark":{"type":"text","align":"left","baseline":"middle","fontSize":11.2,"color":"#e01010"},"encoding":{"text":{"field":"t"}}},
{"data":{"values":[{"t":"Actual Factor","x":46,"y":267}]},"mark":{"type":"text","align":"left","baseline":"middle","fontSize":11.2,"fontWeight":"bold","color":"#222"},"encoding":{"text":{"field":"t"}}},
{"data":{"values":[{"t":"(b)","x":1047,"y":1478}]},"mark":{"type":"text","align":"center","baseline":"middle","fontSize":34,"fontWeight":"bold","color":"#111"},"encoding":{"text":{"field":"t"}}},
{"data":{"values":[{"x":67,"y":81}]},"mark":{"type":"point","filled":true,"size":100,"opacity":1,"color":"#b00000","stroke":"#600","strokeWidth":0.7}},
{"data":{"values":[{"x":91,"y":112,"v":95.3},{"x":98,"y":112,"v":95.8},{"x":106,"y":112,"v":96.3},{"x":113,"y":112,"v":96.8},{"x":121,"y":112,"v":97.35},{"x":128,"y":112,"v":97.9},{"x":136,"y":112,"v":98.4},{"x":143,"y":112,"v":98.9},{"x":151,"y":112,"v":99.4}]},"mark":{"type":"rect","width":5,"height":11},"encoding":{"color":{"field":"v","type":"quantitative","scale":{"domain":[95.3,97.35,99.4],"range":["#0000e0","#00e000","#e00000"]},"legend":null}}},
{"data":{"values":[{"x":87,"x2":155,"y":99,"y2":126}]},"mark":{"type":"rect","fillOpacity":0,"stroke":"#333","strokeWidth":0.7},"encoding":{"x2":{"field":"x2"},"y2":{"field":"y2"}}}
]},
{"width":591.6,"height":401.5,"title":{"text":"Drug content (%)","fontSize":19,"offset":-10},"view":{"stroke":"#777"},"encoding":{"x":{"field":"a","type":"quantitative","scale":{"domain":[2,10],"nice":false,"zero":false},"axis":{"values":[2,4,6,8,10],"title":"A: Conc of Chitosan (mg)","titleFontSize":15.5,"tickSize":10,"labelPadding":3,"titlePadding":12}},"y":{"field":"b","type":"quantitative","scale":{"domain":[2,10],"nice":false,"zero":false},"axis":{"values":[2,4,6,8,10],"title":"B: HPMC K 100 M  (mg)","titleFontSize":11,"tickSize":14,"labelPadding":7,"labelOffset":-5,"titlePadding":60}}},"layer":[
{"transform":[{"filter":"datum.b<5.7"}],"data":{"name":"hb","values":[
{"a":2,"b":2,"v":95.3},{"a":3,"b":2,"v":95.3},{"a":4,"b":2,"v":95.32},{"a":5,"b":2,"v":95.38},{"a":6,"b":2,"v":95.42},{"a":7,"b":2,"v":95.42},{"a":8,"b":2,"v":95.45},{"a":9,"b":2,"v":95.6},{"a":10,"b":2,"v":95.8},
{"a":2,"b":2.2,"v":95.61},{"a":3,"b":2.2,"v":95.58},{"a":4,"b":2.2,"v":95.6},{"a":5,"b":2.2,"v":95.63},{"a":6,"b":2.2,"v":95.66},{"a":7,"b":2.2,"v":95.7},{"a":8,"b":2.2,"v":95.75},{"a":9,"b":2.2,"v":95.95},{"a":10,"b":2.2,"v":96.12},
{"a":2,"b":2.4,"v":95.92},{"a":3,"b":2.4,"v":95.88},{"a":4,"b":2.4,"v":95.85},{"a":5,"b":2.4,"v":95.88},{"a":6,"b":2.4,"v":95.9},{"a":7,"b":2.4,"v":95.97},{"a":8,"b":2.4,"v":96.07},{"a":9,"b":2.4,"v":96.2},{"a":10,"b":2.4,"v":96.37},
{"a":2,"b":2.6,"v":96.21},{"a":3,"b":2.6,"v":96.16},{"a":4,"b":2.6,"v":96.13},{"a":5,"b":2.6,"v":96.12},{"a":6,"b":2.6,"v":96.15},{"a":7,"b":2.6,"v":96.22},{"a":8,"b":2.6,"v":96.33},{"a":9,"b":2.6,"v":96.47},{"a":10,"b":2.6,"v":96.61},
{"a":2,"b":2.8,"v":96.5},{"a":3,"b":2.8,"v":96.45},{"a":4,"b":2.8,"v":96.38},{"a":5,"b":2.8,"v":96.37},{"a":6,"b":2.8,"v":96.4},{"a":7,"b":2.8,"v":96.47},{"a":8,"b":2.8,"v":96.58},{"a":9,"b":2.8,"v":96.71},{"a":10,"b":2.8,"v":96.85},
{"a":2,"b":3,"v":96.79},{"a":3,"b":3,"v":96.73},{"a":4,"b":3,"v":96.64},{"a":5,"b":3,"v":96.62},{"a":6,"b":3,"v":96.65},{"a":7,"b":3,"v":96.72},{"a":8,"b":3,"v":96.83},{"a":9,"b":3,"v":96.96},{"a":10,"b":3,"v":97.07},
{"a":2,"b":3.2,"v":97.06},{"a":3,"b":3.2,"v":96.98},{"a":4,"b":3.2,"v":96.9},{"a":5,"b":3.2,"v":96.87},{"a":6,"b":3.2,"v":96.9},{"a":7,"b":3.2,"v":96.97},{"a":8,"b":3.2,"v":97.06},{"a":9,"b":3.2,"v":97.16},{"a":10,"b":3.2,"v":97.26},
{"a":2,"b":3.4,"v":97.29},{"a":3,"b":3.4,"v":97.19},{"a":4,"b":3.4,"v":97.12},{"a":5,"b":3.4,"v":97.1},{"a":6,"b":3.4,"v":97.11},{"a":7,"b":3.4,"v":97.16},{"a":8,"b":3.4,"v":97.24},{"a":9,"b":3.4,"v":97.34},{"a":10,"b":3.4,"v":97.44},
{"a":2,"b":3.6,"v":97.53},{"a":3,"b":3.6,"v":97.4},{"a":4,"b":3.6,"v":97.32},{"a":5,"b":3.6,"v":97.29},{"a":6,"b":3.6,"v":97.3},{"a":7,"b":3.6,"v":97.34},{"a":8,"b":3.6,"v":97.42},{"a":9,"b":3.6,"v":97.52},{"a":10,"b":3.6,"v":97.63},
{"a":2,"b":3.8,"v":97.76},{"a":3,"b":3.8,"v":97.62},{"a":4,"b":3.8,"v":97.52},{"a":5,"b":3.8,"v":97.48},{"a":6,"b":3.8,"v":97.48},{"a":7,"b":3.8,"v":97.52},{"a":8,"b":3.8,"v":97.6},{"a":9,"b":3.8,"v":97.7},{"a":10,"b":3.8,"v":97.81},
{"a":2,"b":4,"v":98},{"a":3,"b":4,"v":97.84},{"a":4,"b":4,"v":97.73},{"a":5,"b":4,"v":97.67},{"a":6,"b":4,"v":97.67},{"a":7,"b":4,"v":97.71},{"a":8,"b":4,"v":97.78},{"a":9,"b":4,"v":97.88},{"a":10,"b":4,"v":98},
{"a":2,"b":4.2,"v":98.17},{"a":3,"b":4.2,"v":98.04},{"a":4,"b":4.2,"v":97.93},{"a":5,"b":4.2,"v":97.86},{"a":6,"b":4.2,"v":97.85},{"a":7,"b":4.2,"v":97.9},{"a":8,"b":4.2,"v":97.96},{"a":9,"b":4.2,"v":98.05},{"a":10,"b":4.2,"v":98.16},
{"a":2,"b":4.4,"v":98.34},{"a":3,"b":4.4,"v":98.2},{"a":4,"b":4.4,"v":98.1},{"a":5,"b":4.4,"v":98.05},{"a":6,"b":4.4,"v":98.03},{"a":7,"b":4.4,"v":98.06},{"a":8,"b":4.4,"v":98.13},{"a":9,"b":4.4,"v":98.2},{"a":10,"b":4.4,"v":98.3},
{"a":2,"b":4.6,"v":98.5},{"a":3,"b":4.6,"v":98.37},{"a":4,"b":4.6,"v":98.24},{"a":5,"b":4.6,"v":98.18},{"a":6,"b":4.6,"v":98.16},{"a":7,"b":4.6,"v":98.19},{"a":8,"b":4.6,"v":98.25},{"a":9,"b":4.6,"v":98.34},{"a":10,"b":4.6,"v":98.42},
{"a":2,"b":4.8,"v":98.66},{"a":3,"b":4.8,"v":98.53},{"a":4,"b":4.8,"v":98.39},{"a":5,"b":4.8,"v":98.33},{"a":6,"b":4.8,"v":98.31},{"a":7,"b":4.8,"v":98.33},{"a":8,"b":4.8,"v":98.38},{"a":9,"b":4.8,"v":98.45},{"a":10,"b":4.8,"v":98.53},
{"a":2,"b":5,"v":98.85},{"a":3,"b":5,"v":98.69},{"a":4,"b":5,"v":98.54},{"a":5,"b":5,"v":98.47},{"a":6,"b":5,"v":98.44},{"a":7,"b":5,"v":98.45},{"a":8,"b":5,"v":98.49},{"a":9,"b":5,"v":98.55},{"a":10,"b":5,"v":98.62},
{"a":2,"b":5.2,"v":99.02},{"a":3,"b":5.2,"v":98.84},{"a":4,"b":5.2,"v":98.68},{"a":5,"b":5.2,"v":98.6},{"a":6,"b":5.2,"v":98.56},{"a":7,"b":5.2,"v":98.56},{"a":8,"b":5.2,"v":98.58},{"a":9,"b":5.2,"v":98.62},{"a":10,"b":5.2,"v":98.68},
{"a":2,"b":5.4,"v":99.1},{"a":3,"b":5.4,"v":98.98},{"a":4,"b":5.4,"v":98.82},{"a":5,"b":5.4,"v":98.72},{"a":6,"b":5.4,"v":98.67},{"a":7,"b":5.4,"v":98.65},{"a":8,"b":5.4,"v":98.66},{"a":9,"b":5.4,"v":98.68},{"a":10,"b":5.4,"v":98.72},
{"a":2,"b":5.6,"v":99.18},{"a":3,"b":5.6,"v":99.05},{"a":4,"b":5.6,"v":98.92},{"a":5,"b":5.6,"v":98.82},{"a":6,"b":5.6,"v":98.76},{"a":7,"b":5.6,"v":98.72},{"a":8,"b":5.6,"v":98.7},{"a":9,"b":5.6,"v":98.71},{"a":10,"b":5.6,"v":98.74},
{"a":2,"b":5.8,"v":99.27},{"a":3,"b":5.8,"v":99.12},{"a":4,"b":5.8,"v":99.02},{"a":5,"b":5.8,"v":98.92},{"a":6,"b":5.8,"v":98.85},{"a":7,"b":5.8,"v":98.78},{"a":8,"b":5.8,"v":98.75},{"a":9,"b":5.8,"v":98.74},{"a":10,"b":5.8,"v":98.76},
{"a":2,"b":6.2,"v":99.34},{"a":3,"b":6.2,"v":99.22},{"a":4,"b":6.2,"v":99.1},{"a":5,"b":6.2,"v":99.03},{"a":6,"b":6.2,"v":98.95},{"a":7,"b":6.2,"v":98.86},{"a":8,"b":6.2,"v":98.81},{"a":9,"b":6.2,"v":98.79},{"a":10,"b":6.2,"v":98.79},
{"a":2,"b":6.6,"v":99.38},{"a":3,"b":6.6,"v":99.28},{"a":4,"b":6.6,"v":99.16},{"a":5,"b":6.6,"v":99.08},{"a":6,"b":6.6,"v":99},{"a":7,"b":6.6,"v":98.91},{"a":8,"b":6.6,"v":98.85},{"a":9,"b":6.6,"v":98.82},{"a":10,"b":6.6,"v":98.81},
{"a":2,"b":7,"v":99.4},{"a":3,"b":7,"v":99.32},{"a":4,"b":7,"v":99.2},{"a":5,"b":7,"v":99.1},{"a":6,"b":7,"v":99.02},{"a":7,"b":7,"v":98.93},{"a":8,"b":7,"v":98.87},{"a":9,"b":7,"v":98.84},{"a":10,"b":7,"v":98.82},
{"a":2,"b":7.4,"v":99.4},{"a":3,"b":7.4,"v":99.31},{"a":4,"b":7.4,"v":99.19},{"a":5,"b":7.4,"v":99.1},{"a":6,"b":7.4,"v":99},{"a":7,"b":7.4,"v":98.92},{"a":8,"b":7.4,"v":98.86},{"a":9,"b":7.4,"v":98.83},{"a":10,"b":7.4,"v":98.81},
{"a":2,"b":7.8,"v":99.36},{"a":3,"b":7.8,"v":99.25},{"a":4,"b":7.8,"v":99.12},{"a":5,"b":7.8,"v":99.04},{"a":6,"b":7.8,"v":98.92},{"a":7,"b":7.8,"v":98.84},{"a":8,"b":7.8,"v":98.8},{"a":9,"b":7.8,"v":98.78},{"a":10,"b":7.8,"v":98.75},
{"a":2,"b":8.2,"v":99.28},{"a":3,"b":8.2,"v":99.15},{"a":4,"b":8.2,"v":99.05},{"a":5,"b":8.2,"v":98.95},{"a":6,"b":8.2,"v":98.78},{"a":7,"b":8.2,"v":98.72},{"a":8,"b":8.2,"v":98.68},{"a":9,"b":8.2,"v":98.64},{"a":10,"b":8.2,"v":98.6},
{"a":2,"b":8.6,"v":99.18},{"a":3,"b":8.6,"v":99.05},{"a":4,"b":8.6,"v":98.93},{"a":5,"b":8.6,"v":98.72},{"a":6,"b":8.6,"v":98.6},{"a":7,"b":8.6,"v":98.53},{"a":8,"b":8.6,"v":98.48},{"a":9,"b":8.6,"v":98.42},{"a":10,"b":8.6,"v":98.38},
{"a":2,"b":9,"v":99.1},{"a":3,"b":9,"v":99.05},{"a":4,"b":9,"v":98.85},{"a":5,"b":9,"v":98.51},{"a":6,"b":9,"v":98.3},{"a":7,"b":9,"v":98.22},{"a":8,"b":9,"v":98.1},{"a":9,"b":9,"v":98.06},{"a":10,"b":9,"v":98},
{"a":2,"b":9.4,"v":99.05},{"a":3,"b":9.4,"v":98.88},{"a":4,"b":9.4,"v":98.65},{"a":5,"b":9.4,"v":98.3},{"a":6,"b":9.4,"v":98.13},{"a":7,"b":9.4,"v":98.03},{"a":8,"b":9.4,"v":97.9},{"a":9,"b":9.4,"v":97.83},{"a":10,"b":9.4,"v":97.78},
{"a":2,"b":9.8,"v":98.97},{"a":3,"b":9.8,"v":98.78},{"a":4,"b":9.8,"v":98.52},{"a":5,"b":9.8,"v":98.08},{"a":6,"b":9.8,"v":97.93},{"a":7,"b":9.8,"v":97.75},{"a":8,"b":9.8,"v":97.6},{"a":9,"b":9.8,"v":97.55},{"a":10,"b":9.8,"v":97.5},
{"a":2,"b":10,"v":98.93},{"a":3,"b":10,"v":98.75},{"a":4,"b":10,"v":98.45},{"a":5,"b":10,"v":97.97},{"a":6,"b":10,"v":97.8},{"a":7,"b":10,"v":97.6},{"a":8,"b":10,"v":97.5},{"a":9,"b":10,"v":97.45},{"a":10,"b":10,"v":97.4}
]},"mark":{"type":"rect","width":75,"height":10.6,"clip":true},"encoding":{"color":{"field":"v","type":"quantitative","scale":{"domain":[95.3,96.325,97.35,98.375,99.4],"range":["#0000ff","#00ffff","#00ff00","#ffff00","#ff0000"],"clamp":true},"legend":null}}},
{"transform":[{"filter":"datum.b>5.7"}],"data":{"name":"hb"},"mark":{"type":"rect","width":75,"height":20.7,"clip":true},"encoding":{"color":{"field":"v","type":"quantitative","scale":{"domain":[95.3,96.325,97.35,98.375,99.4],"range":["#0000ff","#00ffff","#00ff00","#ffff00","#ff0000"],"clamp":true},"legend":null}}},
{"transform":[{"filter":"datum.b<5.7"}],"data":{"name":"hb"},"mark":{"type":"rect","width":74,"height":10.1,"clip":true,"xOffset":37,"yOffset":5,"opacity":0.5},"encoding":{"color":{"field":"v","type":"quantitative","scale":{"domain":[95.3,96.325,97.35,98.375,99.4],"range":["#0000ff","#00ffff","#00ff00","#ffff00","#ff0000"],"clamp":true},"legend":null}}},
{"transform":[{"filter":"datum.b>5.7"}],"data":{"name":"hb"},"mark":{"type":"rect","width":74,"height":20.1,"clip":true,"xOffset":37,"yOffset":10,"opacity":0.5},"encoding":{"color":{"field":"v","type":"quantitative","scale":{"domain":[95.3,96.325,97.35,98.375,99.4],"range":["#0000ff","#00ffff","#00ff00","#ffff00","#ff0000"],"clamp":true},"legend":null}}},
{"transform":[{"filter":"datum.b<5.7"}],"data":{"name":"hb"},"mark":{"type":"rect","width":74,"height":10.1,"clip":true,"xOffset":-18,"yOffset":-2.5,"opacity":0.33},"encoding":{"color":{"field":"v","type":"quantitative","scale":{"domain":[95.3,96.325,97.35,98.375,99.4],"range":["#0000ff","#00ffff","#00ff00","#ffff00","#ff0000"],"clamp":true},"legend":null}}},
{"transform":[{"filter":"datum.b>5.7"}],"data":{"name":"hb"},"mark":{"type":"rect","width":74,"height":20.1,"clip":true,"xOffset":-18,"yOffset":-5,"opacity":0.33},"encoding":{"color":{"field":"v","type":"quantitative","scale":{"domain":[95.3,96.325,97.35,98.375,99.4],"range":["#0000ff","#00ffff","#00ff00","#ffff00","#ff0000"],"clamp":true},"legend":null}}},
{"data":{"values":[
{"k":"96","a":2,"b":2.45},{"k":"96","a":3,"b":2.49},{"k":"96","a":4,"b":2.5},{"k":"96","a":5,"b":2.5},{"k":"96","a":6,"b":2.47},{"k":"96","a":7,"b":2.42},{"k":"96","a":8,"b":2.33},{"k":"96","a":9,"b":2.22},{"k":"96","a":10,"b":2.1},
{"k":"97","a":2,"b":3.15},{"k":"97","a":3,"b":3.22},{"k":"97","a":4,"b":3.28},{"k":"97","a":5,"b":3.3},{"k":"97","a":6,"b":3.28},{"k":"97","a":7,"b":3.22},{"k":"97","a":8,"b":3.14},{"k":"97","a":9,"b":3.03},{"k":"97","a":10,"b":2.92},
{"k":"98l","a":2,"b":4},{"k":"98l","a":3,"b":4.15},{"k":"98l","a":4,"b":4.27},{"k":"98l","a":5,"b":4.33},{"k":"98l","a":6,"b":4.36},{"k":"98l","a":7,"b":4.33},{"k":"98l","a":8,"b":4.25},{"k":"98l","a":9,"b":4.14},{"k":"98l","a":10,"b":4},
{"k":"98u","a":4.64,"b":10},{"k":"98u","a":5.5,"b":9.83},{"k":"98u","a":6,"b":9.68},{"k":"98u","a":7.09,"b":9.44},{"k":"98u","a":8,"b":9.22},{"k":"98u","a":9,"b":9.08},{"k":"98u","a":10,"b":9},
{"k":"99","a":2,"b":9.76},{"k":"99","a":3,"b":9.25},{"k":"99","a":4,"b":8.72},{"k":"99","a":5,"b":8.12},{"k":"99","a":5.8,"b":7.65},{"k":"99","a":6.27,"b":7.37},{"k":"99","a":6.45,"b":7.1},{"k":"99","a":6.47,"b":6.92},{"k":"99","a":6.4,"b":6.7},{"k":"99","a":6.04,"b":6.5},{"k":"99","a":5,"b":6.05},{"k":"99","a":4,"b":5.72},{"k":"99","a":3,"b":5.42},{"k":"99","a":2,"b":5.17}
]},"mark":{"type":"line","order":false,"interpolate":"catmull-rom","color":"#222","strokeWidth":1},"encoding":{"detail":{"field":"k"}}},
{"data":{"name":"lb","values":[{"t":"98","a":7.09,"b":9.44},{"t":"99","a":6.27,"b":7.37},{"t":"98","a":6.09,"b":4.42},{"t":"97","a":6.02,"b":3.38},{"t":"96","a":5.99,"b":2.57}]},"mark":{"type":"rect","width":16,"height":11,"fill":"white","stroke":"#333","strokeWidth":0.7}},
{"data":{"name":"lb"},"mark":{"type":"text","fontSize":6.5,"color":"#222"},"encoding":{"text":{"field":"t"}}},
{"data":{"values":[{"a":2,"b":2},{"a":2,"b":10},{"a":10,"b":2},{"a":10,"b":10},{"a":6,"b":6}]},"mark":{"type":"point","filled":true,"size":95,"opacity":1,"color":"#b00000","stroke":"#600","strokeWidth":0.7}},
{"data":{"values":[{"t":"3","a":5.85,"b":6}]},"mark":{"type":"text","fontSize":6,"color":"#222"},"encoding":{"text":{"field":"t"}}}
]},
{"width":1004.4,"height":692,"resolve":{"scale":{"color":"independent"}},"encoding":{"x":{"field":"x","type":"quantitative","scale":{"domain":[-263.4,1568],"nice":false,"zero":false},"axis":null},"y":{"field":"y","type":"quantitative","scale":{"domain":[1840.9,32.7],"nice":false,"zero":false},"axis":null}},"layer":[
{"data":{"values":[
{"x":603,"y":318,"x2":1064,"y2":222},{"x":1525,"y":318,"x2":1064,"y2":222},{"x":607,"y":402,"x2":1064,"y2":297},{"x":1521,"y":402,"x2":1064,"y2":297},{"x":610,"y":486,"x2":1064,"y2":372},{"x":1518,"y":486,"x2":1064,"y2":372},{"x":614,"y":569,"x2":1064,"y2":447},{"x":1514,"y":569,"x2":1064,"y2":447},{"x":618,"y":652,"x2":1064,"y2":522},{"x":1510,"y":652,"x2":1064,"y2":522},{"x":625,"y":735,"x2":1064,"y2":597},{"x":1503,"y":735,"x2":1064,"y2":597},
{"x":603,"y":318,"x2":632,"y2":867},{"x":1064,"y":222,"x2":1064,"y2":719},{"x":1525,"y":318,"x2":1497,"y2":867},
{"x":718,"y":292,"x2":734,"y2":701},{"x":833,"y":266,"x2":843,"y2":666},{"x":948,"y":243,"x2":954,"y2":632},{"x":1180,"y":243,"x2":1174,"y2":632},{"x":1295,"y":266,"x2":1285,"y2":666},{"x":1410,"y":292,"x2":1394,"y2":701}
]},"mark":{"type":"rule","color":"#555","strokeWidth":0.8},"encoding":{"x2":{"field":"x2"},"y2":{"field":"y2"}}},
{"data":{"values":[{"x":632,"y":867},{"x":1064,"y":1060},{"x":1497,"y":867},{"x":1064,"y":719},{"x":632,"y":867}]},"mark":{"type":"line","order":false,"fill":"#666666","stroke":"#444","strokeWidth":0.8}},
{"data":{"values":[
{"v":99.1,"x":640,"y":873},{"v":99.1,"x":750,"y":858},{"v":99.1,"x":880,"y":848},{"v":99.1,"x":990,"y":842},{"v":99.1,"x":1022,"y":850},{"v":99.1,"x":1020,"y":875},{"v":99.1,"x":980,"y":915},{"v":99.1,"x":930,"y":945},{"v":99.1,"x":878,"y":975},
{"v":98.3,"x":733,"y":832},{"v":98.3,"x":840,"y":805},{"v":98.3,"x":1010,"y":770},
{"v":97.5,"x":915,"y":770},{"v":97.5,"x":1008,"y":750},
{"v":98.31,"x":930,"y":998},{"v":98.31,"x":1010,"y":950},{"v":98.31,"x":1120,"y":890},{"v":98.31,"x":1230,"y":850},{"v":98.31,"x":1350,"y":820},
{"v":97.51,"x":972,"y":1017},{"v":97.51,"x":1060,"y":970},{"v":97.51,"x":1180,"y":915},{"v":97.51,"x":1290,"y":870},{"v":97.51,"x":1410,"y":838},
{"v":96.8,"x":1008,"y":1032},{"v":96.8,"x":1100,"y":985},{"v":96.8,"x":1220,"y":930},{"v":96.8,"x":1340,"y":885},{"v":96.8,"x":1455,"y":853},
{"v":96.1,"x":1040,"y":1045},{"v":96.1,"x":1130,"y":1000},{"v":96.1,"x":1250,"y":945},{"v":96.1,"x":1380,"y":895},{"v":96.1,"x":1490,"y":868}
]},"mark":{"type":"line","order":false,"interpolate":"catmull-rom","strokeWidth":1.5},"encoding":{"detail":{"field":"v"},"color":{"field":"v","type":"quantitative","scale":{"domain":[95.3,96.325,97.35,98.375,99.4],"range":["#0000ff","#00ffff","#00ff00","#ffff00","#ff0000"]},"legend":null}}},
{"data":{"values":[
{"p":"r19","x":1087,"y":390,"v":97.7},{"p":"r19","x":1064,"y":401,"v":97.7},{"p":"r19","x":840,"y":456,"v":97.7},{"p":"r19","x":860,"y":433,"v":97.7},
{"p":"l19","x":630,"y":403,"v":98.75},{"p":"l19","x":860,"y":433,"v":98.2},{"p":"l19","x":840,"y":456,"v":98.2},{"p":"l19","x":608,"y":420,"v":98.75},
{"p":"r18","x":1109,"y":379,"v":97.95},{"p":"r18","x":1087,"y":390,"v":97.95},{"p":"r18","x":860,"y":433,"v":97.95},{"p":"r18","x":883,"y":418,"v":97.95},
{"p":"l18","x":653,"y":389,"v":98.85},{"p":"l18","x":883,"y":418,"v":98.85},{"p":"l18","x":860,"y":433,"v":98.85},{"p":"l18","x":630,"y":403,"v":98.85},
{"p":"r17","x":1132,"y":365,"v":98.15},{"p":"r17","x":1109,"y":379,"v":98.15},{"p":"r17","x":883,"y":418,"v":98.15},{"p":"r17","x":905,"y":406,"v":98.15},
{"p":"l17","x":675,"y":378,"v":99},{"p":"l17","x":905,"y":406,"v":99},{"p":"l17","x":883,"y":418,"v":99},{"p":"l17","x":653,"y":389,"v":99},
{"p":"r16","x":1155,"y":349,"v":98.49},{"p":"r16","x":1132,"y":365,"v":98.49},{"p":"r16","x":905,"y":406,"v":98.49},{"p":"r16","x":928,"y":391,"v":98.49},
{"p":"l16","x":698,"y":372,"v":99.2},{"p":"l16","x":928,"y":391,"v":99.2},{"p":"l16","x":905,"y":406,"v":99.2},{"p":"l16","x":675,"y":378,"v":99.2},
{"p":"r15","x":1178,"y":337,"v":98.69},{"p":"r15","x":1155,"y":349,"v":98.69},{"p":"r15","x":928,"y":391,"v":98.69},{"p":"r15","x":950,"y":386,"v":98.69},
{"p":"l15","x":720,"y":372,"v":99.3},{"p":"l15","x":950,"y":386,"v":99.3},{"p":"l15","x":928,"y":391,"v":99.3},{"p":"l15","x":698,"y":372,"v":99.3},
{"p":"r14","x":1201,"y":339,"v":98.84},{"p":"r14","x":1178,"y":337,"v":98.84},{"p":"r14","x":950,"y":386,"v":98.84},{"p":"r14","x":973,"y":383,"v":98.84},
{"p":"l14","x":743,"y":376,"v":99.3},{"p":"l14","x":973,"y":383,"v":99.3},{"p":"l14","x":950,"y":386,"v":99.3},{"p":"l14","x":720,"y":372,"v":99.3},
{"p":"r13","x":1223,"y":344,"v":98.9},{"p":"r13","x":1201,"y":339,"v":98.9},{"p":"r13","x":973,"y":383,"v":98.9},{"p":"r13","x":996,"y":384,"v":98.9},
{"p":"l13","x":766,"y":385,"v":99.25},{"p":"l13","x":996,"y":384,"v":99.25},{"p":"l13","x":973,"y":383,"v":99.25},{"p":"l13","x":743,"y":376,"v":99.25},
{"p":"r12","x":1246,"y":349,"v":98.92},{"p":"r12","x":1223,"y":344,"v":98.92},{"p":"r12","x":996,"y":384,"v":98.92},{"p":"r12","x":1018,"y":389,"v":98.92},
{"p":"l12","x":789,"y":398,"v":99.21},{"p":"l12","x":1018,"y":389,"v":99.21},{"p":"l12","x":996,"y":384,"v":99.21},{"p":"l12","x":766,"y":385,"v":99.21},
{"p":"r11","x":1269,"y":356,"v":98.9},{"p":"r11","x":1246,"y":349,"v":98.9},{"p":"r11","x":1018,"y":389,"v":98.9},{"p":"r11","x":1041,"y":399,"v":98.9},
{"p":"l11","x":812,"y":415,"v":99.2},{"p":"l11","x":1041,"y":399,"v":99.2},{"p":"l11","x":1018,"y":389,"v":99.2},{"p":"l11","x":789,"y":398,"v":99.2},
{"p":"r10","x":1292,"y":364,"v":98.87},{"p":"r10","x":1269,"y":356,"v":98.87},{"p":"r10","x":1041,"y":399,"v":98.87},{"p":"r10","x":1064,"y":410,"v":98.87},
{"p":"l10","x":835,"y":435,"v":99.15},{"p":"l10","x":1064,"y":410,"v":99.15},{"p":"l10","x":1041,"y":399,"v":99.15},{"p":"l10","x":812,"y":415,"v":99.15},
{"p":"r9","x":1314,"y":372,"v":98.8},{"p":"r9","x":1292,"y":364,"v":98.8},{"p":"r9","x":1064,"y":410,"v":98.8},{"p":"r9","x":1087,"y":427,"v":98.8},
{"p":"l9","x":858,"y":452,"v":99.06},{"p":"l9","x":1087,"y":427,"v":99.06},{"p":"l9","x":1064,"y":410,"v":99.06},{"p":"l9","x":835,"y":435,"v":99.06},
{"p":"r8","x":1337,"y":382,"v":98.7},{"p":"r8","x":1314,"y":372,"v":98.7},{"p":"r8","x":1087,"y":427,"v":98.7},{"p":"r8","x":1109,"y":450,"v":98.7},
{"p":"l8","x":881,"y":474,"v":98.88},{"p":"l8","x":1109,"y":450,"v":98.88},{"p":"l8","x":1087,"y":427,"v":98.88},{"p":"l8","x":858,"y":452,"v":98.88},
{"p":"r7","x":1359,"y":399,"v":98.53},{"p":"r7","x":1337,"y":382,"v":98.53},{"p":"r7","x":1109,"y":450,"v":98.53},{"p":"r7","x":1132,"y":477,"v":98.53},
{"p":"l7","x":905,"y":513,"v":98.65},{"p":"l7","x":1132,"y":477,"v":98.65},{"p":"l7","x":1109,"y":450,"v":98.65},{"p":"l7","x":881,"y":474,"v":98.65},
{"p":"r6","x":1381,"y":424,"v":98.29},{"p":"r6","x":1359,"y":399,"v":98.29},{"p":"r6","x":1132,"y":477,"v":98.29},{"p":"r6","x":1154,"y":508,"v":98.29},
{"p":"l6","x":928,"y":549,"v":98.33},{"p":"l6","x":1154,"y":508,"v":98.33},{"p":"l6","x":1132,"y":477,"v":98.33},{"p":"l6","x":905,"y":513,"v":98.33},
{"p":"r5","x":1403,"y":454,"v":98},{"p":"r5","x":1381,"y":424,"v":98},{"p":"r5","x":1154,"y":508,"v":98},{"p":"r5","x":1177,"y":545,"v":98},
{"p":"l5","x":951,"y":587,"v":98},{"p":"l5","x":1177,"y":545,"v":98},{"p":"l5","x":1154,"y":508,"v":98},{"p":"l5","x":928,"y":549,"v":98},
{"p":"r4","x":1424,"y":490,"v":97.65},{"p":"r4","x":1403,"y":454,"v":97.65},{"p":"r4","x":1177,"y":545,"v":97.65},{"p":"r4","x":1199,"y":584,"v":97.65},
{"p":"l4","x":974,"y":638,"v":97.62},{"p":"l4","x":1199,"y":584,"v":97.62},{"p":"l4","x":1177,"y":545,"v":97.62},{"p":"l4","x":951,"y":587,"v":97.62},
{"p":"r3","x":1445,"y":526,"v":97.28},{"p":"r3","x":1424,"y":490,"v":97.28},{"p":"r3","x":1199,"y":584,"v":97.28},{"p":"r3","x":1221,"y":626,"v":97.28},
{"p":"l3","x":997,"y":689,"v":97.2},{"p":"l3","x":1221,"y":626,"v":97.2},{"p":"l3","x":1199,"y":584,"v":97.2},{"p":"l3","x":974,"y":638,"v":97.2},
{"p":"r2","x":1466,"y":567,"v":96.86},{"p":"r2","x":1445,"y":526,"v":96.86},{"p":"r2","x":1221,"y":626,"v":96.86},{"p":"r2","x":1242,"y":678,"v":96.86},
{"p":"l2","x":1019,"y":750,"v":96.72},{"p":"l2","x":1242,"y":678,"v":96.72},{"p":"l2","x":1221,"y":626,"v":96.72},{"p":"l2","x":997,"y":689,"v":96.72},
{"p":"r1","x":1487,"y":614,"v":96.3},{"p":"r1","x":1466,"y":567,"v":96.3},{"p":"r1","x":1242,"y":678,"v":96.3},{"p":"r1","x":1263,"y":737,"v":96.3},
{"p":"l1","x":1042,"y":813,"v":96.1},{"p":"l1","x":1263,"y":737,"v":96.1},{"p":"l1","x":1242,"y":678,"v":96.1},{"p":"l1","x":1019,"y":750,"v":96.1},
{"p":"r0","x":1506,"y":669,"v":95.7},{"p":"r0","x":1487,"y":614,"v":95.7},{"p":"r0","x":1263,"y":737,"v":95.7},{"p":"r0","x":1284,"y":795,"v":95.7},
{"p":"l0","x":1064,"y":880,"v":95.4},{"p":"l0","x":1284,"y":795,"v":95.4},{"p":"l0","x":1263,"y":737,"v":95.4},{"p":"l0","x":1042,"y":813,"v":95.4}
]},"mark":{"type":"line","order":false,"strokeWidth":0.6},"encoding":{"detail":{"field":"p"},"fill":{"field":"v","type":"quantitative","scale":{"domain":[95.3,96.325,97.35,98.375,99.4],"range":["#0000ff","#00ffff","#00ff00","#ffff00","#ff0000"]},"legend":null},"stroke":{"field":"v","type":"quantitative","scale":{"domain":[95.3,96.325,97.35,98.375,99.4],"range":["#0000ff","#00ffff","#00ff00","#ffff00","#ff0000"]},"legend":null}}},
{"data":{"values":[
{"l":"a0","x":1064,"y":880},{"l":"a0","x":997,"y":689},{"l":"a0","x":928,"y":549},{"l":"a0","x":881,"y":474},{"l":"a0","x":835,"y":435},{"l":"a0","x":789,"y":398},{"l":"a0","x":743,"y":376},{"l":"a0","x":720,"y":372},{"l":"a0","x":675,"y":378},{"l":"a0","x":630,"y":403},{"l":"a0","x":608,"y":420},
{"l":"a1","x":1086,"y":872},{"l":"a1","x":1019,"y":683},{"l":"a1","x":951,"y":545},{"l":"a1","x":858,"y":433},{"l":"a1","x":743,"y":373},{"l":"a1","x":631,"y":424},
{"l":"a2","x":1108,"y":863},{"l":"a2","x":1042,"y":676},{"l":"a2","x":973,"y":541},{"l":"a2","x":881,"y":430},{"l":"a2","x":766,"y":375},{"l":"a2","x":654,"y":427},
{"l":"a3","x":1130,"y":855},{"l":"a3","x":1064,"y":670},{"l":"a3","x":996,"y":537},{"l":"a3","x":904,"y":428},{"l":"a3","x":789,"y":376},{"l":"a3","x":678,"y":431},
{"l":"a4","x":1152,"y":846},{"l":"a4","x":1087,"y":664},{"l":"a4","x":1018,"y":533},{"l":"a4","x":927,"y":425},{"l":"a4","x":812,"y":378},{"l":"a4","x":701,"y":434},
{"l":"a5","x":1174,"y":838},{"l":"a5","x":1109,"y":658},{"l":"a5","x":1041,"y":529},{"l":"a5","x":950,"y":423},{"l":"a5","x":835,"y":379},{"l":"a5","x":724,"y":438},
{"l":"a6","x":1196,"y":829},{"l":"a6","x":1131,"y":651},{"l":"a6","x":1064,"y":524},{"l":"a6","x":972,"y":420},{"l":"a6","x":858,"y":380},{"l":"a6","x":747,"y":442},
{"l":"a7","x":1218,"y":821},{"l":"a7","x":1154,"y":645},{"l":"a7","x":1086,"y":520},{"l":"a7","x":995,"y":418},{"l":"a7","x":881,"y":382},
{"l":"a8","x":1240,"y":812},{"l":"a8","x":1176,"y":639},{"l":"a8","x":1109,"y":516},{"l":"a8","x":1018,"y":415},{"l":"a8","x":904,"y":383},
{"l":"a9","x":1262,"y":804},{"l":"a9","x":1199,"y":632},{"l":"a9","x":1131,"y":512},{"l":"a9","x":1041,"y":413},{"l":"a9","x":927,"y":385},
{"l":"a10","x":1284,"y":795},{"l":"a10","x":1221,"y":626},{"l":"a10","x":1154,"y":508},{"l":"a10","x":1064,"y":410},{"l":"a10","x":950,"y":386},
{"l":"a11","x":1306,"y":782},{"l":"a11","x":1243,"y":616},{"l":"a11","x":1177,"y":500},{"l":"a11","x":1087,"y":405},{"l":"a11","x":973,"y":381},
{"l":"a12","x":1328,"y":770},{"l":"a12","x":1266,"y":606},{"l":"a12","x":1199,"y":491},{"l":"a12","x":1110,"y":401},{"l":"a12","x":996,"y":376},
{"l":"a13","x":1351,"y":757},{"l":"a13","x":1288,"y":596},{"l":"a13","x":1222,"y":483},{"l":"a13","x":1132,"y":396},{"l":"a13","x":1018,"y":371},
{"l":"a14","x":1373,"y":745},{"l":"a14","x":1310,"y":586},{"l":"a14","x":1245,"y":475},{"l":"a14","x":1155,"y":392},{"l":"a14","x":1041,"y":366},
{"l":"a15","x":1395,"y":732},{"l":"a15","x":1333,"y":576},{"l":"a15","x":1268,"y":466},{"l":"a15","x":1178,"y":387},{"l":"a15","x":1064,"y":362},
{"l":"a16","x":1417,"y":719},{"l":"a16","x":1355,"y":566},{"l":"a16","x":1290,"y":458},{"l":"a16","x":1201,"y":382},{"l":"a16","x":1087,"y":356},
{"l":"a17","x":1439,"y":707},{"l":"a17","x":1377,"y":556},{"l":"a17","x":1313,"y":450},{"l":"a17","x":1224,"y":378},{"l":"a17","x":1110,"y":351},
{"l":"a18","x":1462,"y":694},{"l":"a18","x":1400,"y":546},{"l":"a18","x":1336,"y":441},{"l":"a18","x":1246,"y":373},{"l":"a18","x":1132,"y":346},
{"l":"a19","x":1484,"y":682},{"l":"a19","x":1422,"y":536},{"l":"a19","x":1358,"y":433},{"l":"a19","x":1269,"y":369},{"l":"a19","x":1155,"y":342},
{"l":"a20","x":1506,"y":669},{"l":"a20","x":1445,"y":526},{"l":"a20","x":1381,"y":424},{"l":"a20","x":1292,"y":364},{"l":"a20","x":1178,"y":337},
{"l":"b0","x":1064,"y":880},{"l":"b0","x":1284,"y":795},{"l":"b0","x":1506,"y":669},{"l":"b1","x":1042,"y":813},{"l":"b1","x":1263,"y":737},{"l":"b1","x":1487,"y":614},{"l":"b2","x":1019,"y":750},{"l":"b2","x":1242,"y":678},{"l":"b2","x":1466,"y":567},{"l":"b3","x":997,"y":689},{"l":"b3","x":1221,"y":626},{"l":"b3","x":1445,"y":526},{"l":"b4","x":974,"y":638},{"l":"b4","x":1199,"y":584},{"l":"b4","x":1424,"y":490},{"l":"b5","x":951,"y":587},{"l":"b5","x":1177,"y":545},{"l":"b5","x":1403,"y":454},{"l":"b6","x":928,"y":549},{"l":"b6","x":1154,"y":508},{"l":"b6","x":1381,"y":424},{"l":"b7","x":905,"y":513},{"l":"b7","x":1132,"y":477},{"l":"b7","x":1359,"y":399},{"l":"b8","x":881,"y":474},{"l":"b8","x":1109,"y":450},{"l":"b8","x":1337,"y":382},{"l":"b9","x":858,"y":452},{"l":"b9","x":1087,"y":427},{"l":"b9","x":1314,"y":372},{"l":"b10","x":835,"y":435},{"l":"b10","x":1064,"y":410},{"l":"b10","x":1292,"y":364},{"l":"b11","x":812,"y":415},{"l":"b11","x":1041,"y":399},{"l":"b11","x":1269,"y":356},{"l":"b12","x":789,"y":398},{"l":"b12","x":1018,"y":389},{"l":"b12","x":1246,"y":349},{"l":"b13","x":766,"y":385},{"l":"b13","x":996,"y":384},{"l":"b13","x":1223,"y":344},{"l":"b14","x":743,"y":376},{"l":"b14","x":973,"y":383},{"l":"b14","x":1201,"y":339},{"l":"b15","x":720,"y":372},{"l":"b15","x":950,"y":386},{"l":"b15","x":1178,"y":337},
{"l":"b16","x":698,"y":372},{"l":"b16","x":745,"y":376},{"l":"b17","x":675,"y":378},{"l":"b17","x":778,"y":391},{"l":"b18","x":653,"y":389},{"l":"b18","x":805,"y":408},{"l":"b19","x":630,"y":403},{"l":"b19","x":828,"y":429},{"l":"b20","x":608,"y":420},{"l":"b20","x":840,"y":456}
]},"mark":{"type":"line","order":false,"color":"#1a1a1a","strokeWidth":0.6,"opacity":0.75},"encoding":{"detail":{"field":"l"}}},
{"data":{"values":[{"x":632,"y":867},{"x":740,"y":915},{"x":848,"y":963},{"x":956,"y":1012},{"x":1064,"y":1060},{"x":1172,"y":1012},{"x":1280,"y":963},{"x":1388,"y":915},{"x":1497,"y":867},{"x":603,"y":318},{"x":607,"y":402},{"x":610,"y":486},{"x":614,"y":569},{"x":618,"y":652},{"x":625,"y":735}]},"mark":{"type":"point","filled":true,"size":12,"opacity":1,"color":"#111"}},
{"data":{"values":[{"k":"above","x":605,"y":372},{"k":"above","x":1064,"y":414},{"k":"above","x":1064,"y":887},{"k":"below","x":1504,"y":713},{"k":"above","x":82,"y":96},{"k":"below","x":82,"y":126}]},"mark":{"type":"point","filled":true,"size":100,"opacity":1,"stroke":"#555","strokeWidth":0.7},"encoding":{"color":{"field":"k","type":"nominal","scale":{"domain":["above","below"],"range":["#b00000","#ffc8c8"]},"legend":null}}},
{"data":{"values":[{"x":108,"y":157,"v":95.3},{"x":116,"y":157,"v":95.8},{"x":124,"y":157,"v":96.3},{"x":132,"y":157,"v":96.8},{"x":140,"y":157,"v":97.35},{"x":148,"y":157,"v":97.9},{"x":156,"y":157,"v":98.4},{"x":164,"y":157,"v":98.9},{"x":172,"y":157,"v":99.4}]},"mark":{"type":"rect","width":5,"height":10},"encoding":{"color":{"field":"v","type":"quantitative","scale":{"domain":[95.3,97.35,99.4],"range":["#0000e0","#00e000","#e00000"]},"legend":null}}},
{"data":{"values":[{"x":104,"x2":176,"y":144,"y2":169}]},"mark":{"type":"rect","fillOpacity":0,"stroke":"#333","strokeWidth":0.7},"encoding":{"x2":{"field":"x2"},"y2":{"field":"y2"}}},
{"data":{"values":[{"t":"Factor Coding: Actual","x":60,"y":37},{"t":"Design Points:","x":60,"y":66},{"t":"95.3","x":60,"y":156},{"t":"99.4","x":184,"y":156},{"t":"X1 = A: Conc of Chitosan","x":60,"y":214},{"t":"X2 = B: HPMC K 100 M","x":60,"y":244},{"t":"C: Sodium CMC  = 6","x":60,"y":333}]},"mark":{"type":"text","align":"left","baseline":"middle","fontSize":11,"color":"#333"},"encoding":{"text":{"field":"t"}}},
{"data":{"values":[{"t":"Above Surface","x":104,"y":96},{"t":"Below Surface","x":104,"y":125}]},"mark":{"type":"text","align":"left","baseline":"middle","fontSize":11,"color":"#e01010"},"encoding":{"text":{"field":"t"}}},
{"data":{"values":[{"t":"Actual Factor","x":60,"y":302}]},"mark":{"type":"text","align":"left","baseline":"middle","fontSize":11,"fontWeight":"bold","color":"#222"},"encoding":{"text":{"field":"t"}}},
{"data":{"values":[{"t":"100","x":571,"y":306},{"t":"99","x":584,"y":389},{"t":"98","x":587,"y":472},{"t":"97","x":592,"y":555},{"t":"96","x":596,"y":639},{"t":"95","x":600,"y":722},{"t":"10","x":607,"y":880},{"t":"8","x":720,"y":928},{"t":"6","x":827,"y":975},{"t":"4","x":937,"y":1023},{"t":"2","x":1046,"y":1071},{"t":"2","x":1082,"y":1071},{"t":"4","x":1189,"y":1023},{"t":"6","x":1297,"y":975},{"t":"8","x":1405,"y":928},{"t":"10","x":1520,"y":880}]},"mark":{"type":"text","fontSize":10.5,"color":"#333"},"encoding":{"text":{"field":"t"}}},
{"data":{"values":[{"t":"B: HPMC K 100 M  (mg)","x":681,"y":1029},{"t":"A: Conc of Chitosan (mg)","x":1444,"y":1029}]},"mark":{"type":"text","fontSize":11.4,"color":"#333"},"encoding":{"text":{"field":"t"}}},
{"data":{"values":[{"t":"Drug content (%)","x":456,"y":600}]},"mark":{"type":"text","angle":270,"fontSize":9.5,"color":"#333"},"encoding":{"text":{"field":"t"}}},
{"data":{"values":[{"t":"3D Surface","x":1140,"y":64}]},"mark":{"type":"text","fontSize":18,"color":"#333"},"encoding":{"text":{"field":"t"}}},
{"data":{"values":[{"t":"(e)","x":1042,"y":1495}]},"mark":{"type":"text","fontSize":34,"fontWeight":"bold","color":"#111"},"encoding":{"text":{"field":"t"}}}
]}
],"spacing":0,"bounds":"flush","resolve":{"scale":{"color":"independent","fill":"independent","stroke":"independent"}}},
{"hconcat":[
{"width":351.4,"height":635,"resolve":{"scale":{"color":"independent"}},"encoding":{"x":{"field":"x","type":"quantitative","scale":{"domain":[0,551],"nice":false,"zero":false},"axis":null},"y":{"field":"y","type":"quantitative","scale":{"domain":[1567,103],"nice":false,"zero":false},"axis":null}},"layer":[
{"data":{"values":[{"t":"Factor Coding: Actual","x":1,"y":47},{"t":"6.184","x":1,"y":112},{"t":"8.674","x":131,"y":112},{"t":"X1 = A: Conc of Chitosan","x":1,"y":177},{"t":"X2 = B: HPMC K 100 M","x":1,"y":210},{"t":"C: Sodium CMC  = 6","x":1,"y":309}]},"mark":{"type":"text","align":"left","baseline":"middle","fontSize":11.2,"color":"#333"},"encoding":{"text":{"field":"t"}}},
{"data":{"values":[{"t":"Design Points","x":43,"y":79}]},"mark":{"type":"text","align":"left","baseline":"middle","fontSize":11.2,"color":"#e01010"},"encoding":{"text":{"field":"t"}}},
{"data":{"values":[{"t":"Actual Factor","x":1,"y":276}]},"mark":{"type":"text","align":"left","baseline":"middle","fontSize":11.2,"fontWeight":"bold","color":"#222"},"encoding":{"text":{"field":"t"}}},
{"data":{"values":[{"t":"(c)","x":1006,"y":1516}]},"mark":{"type":"text","align":"center","baseline":"middle","fontSize":34,"fontWeight":"bold","color":"#111"},"encoding":{"text":{"field":"t"}}},
{"data":{"values":[{"x":22,"y":79}]},"mark":{"type":"point","filled":true,"size":100,"opacity":1,"color":"#b00000","stroke":"#600","strokeWidth":0.7}},
{"data":{"values":[{"x":57,"y":112,"v":6.184},{"x":65,"y":112,"v":6.5},{"x":72,"y":112,"v":6.8},{"x":80,"y":112,"v":7.1},{"x":88,"y":112,"v":7.43},{"x":96,"y":112,"v":7.75},{"x":103,"y":112,"v":8.05},{"x":111,"y":112,"v":8.35},{"x":119,"y":112,"v":8.674}]},"mark":{"type":"rect","width":5.5,"height":12},"encoding":{"color":{"field":"v","type":"quantitative","scale":{"domain":[6.184,7.429,8.674],"range":["#0000e0","#00e000","#e00000"]},"legend":null}}},
{"data":{"values":[{"x":53,"x2":123,"y":98,"y2":127}]},"mark":{"type":"rect","fillOpacity":0,"stroke":"#333","strokeWidth":0.7},"encoding":{"x2":{"field":"x2"},"y2":{"field":"y2"}}}
]},
{"width":621.2,"height":450.6,"title":{"text":"Mucoadhesive strength  (%)","fontSize":20.5,"offset":-8},"view":{"stroke":"#777"},"encoding":{"x":{"field":"a","type":"quantitative","scale":{"domain":[2,10],"nice":false,"zero":false},"axis":{"values":[2,4,6,8,10],"title":"A: Conc of Chitosan (mg)","titleFontSize":16.5,"tickSize":10,"labelPadding":3,"titlePadding":15}},"y":{"field":"b","type":"quantitative","scale":{"domain":[2,10],"nice":false,"zero":false},"axis":{"values":[2,4,6,8,10],"title":"B: HPMC K 100 M  (mg)","titleFontSize":12.5,"tickSize":14,"labelPadding":7,"labelOffset":-5,"titlePadding":63}}},"layer":[
{"data":{"name":"hc","values":[
{"a":2,"b":2,"v":8.3},{"a":2.5,"b":2,"v":8.21},{"a":3,"b":2,"v":8.13},{"a":3.5,"b":2,"v":8.07},{"a":4,"b":2,"v":8.01},{"a":4.5,"b":2,"v":7.95},{"a":5,"b":2,"v":7.89},{"a":5.5,"b":2,"v":7.83},{"a":6,"b":2,"v":7.78},{"a":6.5,"b":2,"v":7.72},{"a":7,"b":2,"v":7.66},{"a":7.5,"b":2,"v":7.6},{"a":8,"b":2,"v":7.55},{"a":8.5,"b":2,"v":7.49},{"a":9,"b":2,"v":7.43},{"a":9.5,"b":2,"v":7.38},{"a":10,"b":2,"v":7.33},
{"a":2,"b":2.5,"v":8.18},{"a":2.5,"b":2.5,"v":8.12},{"a":3,"b":2.5,"v":8.05},{"a":3.5,"b":2.5,"v":8},{"a":4,"b":2.5,"v":7.94},{"a":4.5,"b":2.5,"v":7.89},{"a":5,"b":2.5,"v":7.84},{"a":5.5,"b":2.5,"v":7.78},{"a":6,"b":2.5,"v":7.73},{"a":6.5,"b":2.5,"v":7.68},{"a":7,"b":2.5,"v":7.62},{"a":7.5,"b":2.5,"v":7.57},{"a":8,"b":2.5,"v":7.52},{"a":8.5,"b":2.5,"v":7.46},{"a":9,"b":2.5,"v":7.41},{"a":9.5,"b":2.5,"v":7.36},{"a":10,"b":2.5,"v":7.32},
{"a":2,"b":3,"v":8.06},{"a":2.5,"b":3,"v":8.02},{"a":3,"b":3,"v":7.98},{"a":3.5,"b":3,"v":7.92},{"a":4,"b":3,"v":7.87},{"a":4.5,"b":3,"v":7.83},{"a":5,"b":3,"v":7.79},{"a":5.5,"b":3,"v":7.74},{"a":6,"b":3,"v":7.69},{"a":6.5,"b":3,"v":7.63},{"a":7,"b":3,"v":7.58},{"a":7.5,"b":3,"v":7.53},{"a":8,"b":3,"v":7.49},{"a":8.5,"b":3,"v":7.44},{"a":9,"b":3,"v":7.39},{"a":9.5,"b":3,"v":7.35},{"a":10,"b":3,"v":7.32},
{"a":2,"b":3.5,"v":7.97},{"a":2.5,"b":3.5,"v":7.93},{"a":3,"b":3.5,"v":7.89},{"a":3.5,"b":3.5,"v":7.85},{"a":4,"b":3.5,"v":7.8},{"a":4.5,"b":3.5,"v":7.76},{"a":5,"b":3.5,"v":7.73},{"a":5.5,"b":3.5,"v":7.68},{"a":6,"b":3.5,"v":7.63},{"a":6.5,"b":3.5,"v":7.58},{"a":7,"b":3.5,"v":7.54},{"a":7.5,"b":3.5,"v":7.5},{"a":8,"b":3.5,"v":7.46},{"a":8.5,"b":3.5,"v":7.42},{"a":9,"b":3.5,"v":7.38},{"a":9.5,"b":3.5,"v":7.34},{"a":10,"b":3.5,"v":7.31},
{"a":2,"b":4,"v":7.88},{"a":2.5,"b":4,"v":7.84},{"a":3,"b":4,"v":7.8},{"a":3.5,"b":4,"v":7.77},{"a":4,"b":4,"v":7.74},{"a":4.5,"b":4,"v":7.7},{"a":5,"b":4,"v":7.67},{"a":5.5,"b":4,"v":7.62},{"a":6,"b":4,"v":7.57},{"a":6.5,"b":4,"v":7.53},{"a":7,"b":4,"v":7.5},{"a":7.5,"b":4,"v":7.47},{"a":8,"b":4,"v":7.44},{"a":8.5,"b":4,"v":7.4},{"a":9,"b":4,"v":7.36},{"a":9.5,"b":4,"v":7.33},{"a":10,"b":4,"v":7.31},
{"a":2,"b":4.5,"v":7.8},{"a":2.5,"b":4.5,"v":7.77},{"a":3,"b":4.5,"v":7.73},{"a":3.5,"b":4.5,"v":7.71},{"a":4,"b":4.5,"v":7.68},{"a":4.5,"b":4.5,"v":7.64},{"a":5,"b":4.5,"v":7.61},{"a":5.5,"b":4.5,"v":7.57},{"a":6,"b":4.5,"v":7.53},{"a":6.5,"b":4.5,"v":7.5},{"a":7,"b":4.5,"v":7.47},{"a":7.5,"b":4.5,"v":7.44},{"a":8,"b":4.5,"v":7.42},{"a":8.5,"b":4.5,"v":7.39},{"a":9,"b":4.5,"v":7.36},{"a":9.5,"b":4.5,"v":7.33},{"a":10,"b":4.5,"v":7.31},
{"a":2,"b":5,"v":7.73},{"a":2.5,"b":5,"v":7.7},{"a":3,"b":5,"v":7.67},{"a":3.5,"b":5,"v":7.64},{"a":4,"b":5,"v":7.62},{"a":4.5,"b":5,"v":7.58},{"a":5,"b":5,"v":7.55},{"a":5.5,"b":5,"v":7.52},{"a":6,"b":5,"v":7.49},{"a":6.5,"b":5,"v":7.46},{"a":7,"b":5,"v":7.44},{"a":7.5,"b":5,"v":7.42},{"a":8,"b":5,"v":7.4},{"a":8.5,"b":5,"v":7.37},{"a":9,"b":5,"v":7.35},{"a":9.5,"b":5,"v":7.33},{"a":10,"b":5,"v":7.32},
{"a":2,"b":5.5,"v":7.65},{"a":2.5,"b":5.5,"v":7.62},{"a":3,"b":5.5,"v":7.6},{"a":3.5,"b":5.5,"v":7.58},{"a":4,"b":5.5,"v":7.56},{"a":4.5,"b":5.5,"v":7.53},{"a":5,"b":5.5,"v":7.51},{"a":5.5,"b":5.5,"v":7.48},{"a":6,"b":5.5,"v":7.46},{"a":6.5,"b":5.5,"v":7.44},{"a":7,"b":5.5,"v":7.42},{"a":7.5,"b":5.5,"v":7.41},{"a":8,"b":5.5,"v":7.4},{"a":8.5,"b":5.5,"v":7.38},{"a":9,"b":5.5,"v":7.36},{"a":9.5,"b":5.5,"v":7.35},{"a":10,"b":5.5,"v":7.34},
{"a":2,"b":6,"v":7.58},{"a":2.5,"b":6,"v":7.55},{"a":3,"b":6,"v":7.53},{"a":3.5,"b":6,"v":7.51},{"a":4,"b":6,"v":7.5},{"a":4.5,"b":6,"v":7.48},{"a":5,"b":6,"v":7.47},{"a":5.5,"b":6,"v":7.45},{"a":6,"b":6,"v":7.43},{"a":6.5,"b":6,"v":7.42},{"a":7,"b":6,"v":7.41},{"a":7.5,"b":6,"v":7.4},{"a":8,"b":6,"v":7.39},{"a":8.5,"b":6,"v":7.38},{"a":9,"b":6,"v":7.37},{"a":9.5,"b":6,"v":7.36},{"a":10,"b":6,"v":7.36},
{"a":2,"b":6.5,"v":7.52},{"a":2.5,"b":6.5,"v":7.5},{"a":3,"b":6.5,"v":7.48},{"a":3.5,"b":6.5,"v":7.47},{"a":4,"b":6.5,"v":7.46},{"a":4.5,"b":6.5,"v":7.45},{"a":5,"b":6.5,"v":7.44},{"a":5.5,"b":6.5,"v":7.43},{"a":6,"b":6.5,"v":7.42},{"a":6.5,"b":6.5,"v":7.42},{"a":7,"b":6.5,"v":7.42},{"a":7.5,"b":6.5,"v":7.41},{"a":8,"b":6.5,"v":7.4},{"a":8.5,"b":6.5,"v":7.4},{"a":9,"b":6.5,"v":7.4},{"a":9.5,"b":6.5,"v":7.39},{"a":10,"b":6.5,"v":7.38},
{"a":2,"b":7,"v":7.46},{"a":2.5,"b":7,"v":7.44},{"a":3,"b":7,"v":7.43},{"a":3.5,"b":7,"v":7.42},{"a":4,"b":7,"v":7.42},{"a":4.5,"b":7,"v":7.42},{"a":5,"b":7,"v":7.42},{"a":5.5,"b":7,"v":7.41},{"a":6,"b":7,"v":7.41},{"a":6.5,"b":7,"v":7.41},{"a":7,"b":7,"v":7.42},{"a":7.5,"b":7,"v":7.42},{"a":8,"b":7,"v":7.42},{"a":8.5,"b":7,"v":7.42},{"a":9,"b":7,"v":7.42},{"a":9.5,"b":7,"v":7.41},{"a":10,"b":7,"v":7.41},
{"a":2,"b":7.5,"v":7.4},{"a":2.5,"b":7.5,"v":7.39},{"a":3,"b":7.5,"v":7.39},{"a":3.5,"b":7.5,"v":7.39},{"a":4,"b":7.5,"v":7.39},{"a":4.5,"b":7.5,"v":7.4},{"a":5,"b":7.5,"v":7.4},{"a":5.5,"b":7.5,"v":7.4},{"a":6,"b":7.5,"v":7.41},{"a":6.5,"b":7.5,"v":7.42},{"a":7,"b":7.5,"v":7.43},{"a":7.5,"b":7.5,"v":7.44},{"a":8,"b":7.5,"v":7.44},{"a":8.5,"b":7.5,"v":7.45},{"a":9,"b":7.5,"v":7.45},{"a":9.5,"b":7.5,"v":7.45},{"a":10,"b":7.5,"v":7.45},
{"a":2,"b":8,"v":7.34},{"a":2.5,"b":8,"v":7.34},{"a":3,"b":8,"v":7.35},{"a":3.5,"b":8,"v":7.35},{"a":4,"b":8,"v":7.36},{"a":4.5,"b":8,"v":7.37},{"a":5,"b":8,"v":7.39},{"a":5.5,"b":8,"v":7.39},{"a":6,"b":8,"v":7.4},{"a":6.5,"b":8,"v":7.42},{"a":7,"b":8,"v":7.44},{"a":7.5,"b":8,"v":7.45},{"a":8,"b":8,"v":7.47},{"a":8.5,"b":8,"v":7.48},{"a":9,"b":8,"v":7.49},{"a":9.5,"b":8,"v":7.49},{"a":10,"b":8,"v":7.5},
{"a":2,"b":8.5,"v":7.28},{"a":2.5,"b":8.5,"v":7.29},{"a":3,"b":8.5,"v":7.31},{"a":3.5,"b":8.5,"v":7.32},{"a":4,"b":8.5,"v":7.33},{"a":4.5,"b":8.5,"v":7.35},{"a":5,"b":8.5,"v":7.37},{"a":5.5,"b":8.5,"v":7.39},{"a":6,"b":8.5,"v":7.4},{"a":6.5,"b":8.5,"v":7.43},{"a":7,"b":8.5,"v":7.46},{"a":7.5,"b":8.5,"v":7.48},{"a":8,"b":8.5,"v":7.5},{"a":8.5,"b":8.5,"v":7.51},{"a":9,"b":8.5,"v":7.52},{"a":9.5,"b":8.5,"v":7.53},{"a":10,"b":8.5,"v":7.54},
{"a":2,"b":9,"v":7.22},{"a":2.5,"b":9,"v":7.24},{"a":3,"b":9,"v":7.27},{"a":3.5,"b":9,"v":7.28},{"a":4,"b":9,"v":7.3},{"a":4.5,"b":9,"v":7.33},{"a":5,"b":9,"v":7.36},{"a":5.5,"b":9,"v":7.38},{"a":6,"b":9,"v":7.41},{"a":6.5,"b":9,"v":7.44},{"a":7,"b":9,"v":7.48},{"a":7.5,"b":9,"v":7.5},{"a":8,"b":9,"v":7.53},{"a":8.5,"b":9,"v":7.54},{"a":9,"b":9,"v":7.56},{"a":9.5,"b":9,"v":7.57},{"a":10,"b":9,"v":7.58},
{"a":2,"b":9.5,"v":7.16},{"a":2.5,"b":9.5,"v":7.19},{"a":3,"b":9.5,"v":7.22},{"a":3.5,"b":9.5,"v":7.24},{"a":4,"b":9.5,"v":7.27},{"a":4.5,"b":9.5,"v":7.3},{"a":5,"b":9.5,"v":7.34},{"a":5.5,"b":9.5,"v":7.37},{"a":6,"b":9.5,"v":7.41},{"a":6.5,"b":9.5,"v":7.45},{"a":7,"b":9.5,"v":7.5},{"a":7.5,"b":9.5,"v":7.52},{"a":8,"b":9.5,"v":7.56},{"a":8.5,"b":9.5,"v":7.57},{"a":9,"b":9.5,"v":7.59},{"a":9.5,"b":9.5,"v":7.61},{"a":10,"b":9.5,"v":7.63},
{"a":2,"b":10,"v":7.1},{"a":2.5,"b":10,"v":7.14},{"a":3,"b":10,"v":7.18},{"a":3.5,"b":10,"v":7.21},{"a":4,"b":10,"v":7.25},{"a":4.5,"b":10,"v":7.28},{"a":5,"b":10,"v":7.32},{"a":5.5,"b":10,"v":7.37},{"a":6,"b":10,"v":7.42},{"a":6.5,"b":10,"v":7.47},{"a":7,"b":10,"v":7.52},{"a":7.5,"b":10,"v":7.55},{"a":8,"b":10,"v":7.59},{"a":8.5,"b":10,"v":7.61},{"a":9,"b":10,"v":7.63},{"a":9.5,"b":10,"v":7.65},{"a":10,"b":10,"v":7.68}
]},"mark":{"type":"rect","width":40,"height":29.5,"clip":true},"encoding":{"color":{"field":"v","type":"quantitative","scale":{"domain":[6.184,6.8065,7.429,8.0515,8.674],"range":["#0000ff","#00ffff","#00ff00","#ffff00","#ff0000"],"clamp":true},"legend":null}}},
{"data":{"name":"hc"},"mark":{"type":"rect","width":38.85,"height":28.2,"clip":true,"xOffset":19.4,"yOffset":14,"opacity":0.5},"encoding":{"color":{"field":"v","type":"quantitative","scale":{"domain":[6.184,6.8065,7.429,8.0515,8.674],"range":["#0000ff","#00ffff","#00ff00","#ffff00","#ff0000"],"clamp":true},"legend":null}}},
{"data":{"name":"hc"},"mark":{"type":"rect","width":38.85,"height":28.2,"clip":true,"xOffset":-10,"yOffset":7,"opacity":0.33},"encoding":{"color":{"field":"v","type":"quantitative","scale":{"domain":[6.184,6.8065,7.429,8.0515,8.674],"range":["#0000ff","#00ffff","#00ff00","#ffff00","#ff0000"],"clamp":true},"legend":null}}},
{"data":{"name":"hc"},"mark":{"type":"rect","width":38.85,"height":28.2,"clip":true,"xOffset":10,"yOffset":-7,"opacity":0.25},"encoding":{"color":{"field":"v","type":"quantitative","scale":{"domain":[6.184,6.8065,7.429,8.0515,8.674],"range":["#0000ff","#00ffff","#00ff00","#ffff00","#ff0000"],"clamp":true},"legend":null}}},
{"data":{"values":[
{"k":"a","a":2,"b":7.52},{"k":"a","a":4.05,"b":7.56},{"k":"a","a":5.24,"b":7.77},{"k":"a","a":5.77,"b":7.98},{"k":"a","a":5.96,"b":8.48},{"k":"a","a":5.89,"b":9.17},{"k":"a","a":5.67,"b":10},
{"k":"b","a":8.9,"b":10},{"k":"b","a":9.39,"b":9.71},{"k":"b","a":10,"b":9.31},
{"k":"c","a":10,"b":6.83},{"k":"c","a":8.97,"b":6.71},{"k":"c","a":8.36,"b":6.4},{"k":"c","a":8.13,"b":5.86},{"k":"c","a":8.29,"b":4.97},{"k":"c","a":8.73,"b":3.63},{"k":"c","a":9.28,"b":2},
{"k":"d","a":2,"b":5.86},{"k":"d","a":3.22,"b":5.48},{"k":"d","a":4.29,"b":5.02},{"k":"d","a":5.2,"b":4.49},{"k":"d","a":6.02,"b":3.71},{"k":"d","a":6.76,"b":2.94},{"k":"d","a":7.51,"b":2},
{"k":"e","a":2,"b":4.49},{"k":"e","a":3.06,"b":4.02},{"k":"e","a":4.07,"b":3.48},{"k":"e","a":4.87,"b":2.94},{"k":"e","a":5.79,"b":2},
{"k":"f","a":2,"b":3.32},{"k":"f","a":3.1,"b":2.78},{"k":"f","a":3.72,"b":2.4},{"k":"f","a":4.09,"b":2},
{"k":"g","a":2,"b":2.28},{"k":"g","a":2.44,"b":2},
{"k":"h","a":2,"b":9.9},{"k":"h","a":2.1,"b":10}
]},"mark":{"type":"line","order":false,"interpolate":"catmull-rom","color":"#222","strokeWidth":1},"encoding":{"detail":{"field":"k"}}},
{"data":{"name":"lc","values":[{"t":"7.4","a":5.23,"b":7.77},{"t":"7.6","a":9.39,"b":9.71},{"t":"7.4","a":8.28,"b":4.97},{"t":"7.6","a":5.2,"b":4.49},{"t":"7.8","a":4.07,"b":3.48},{"t":"8","a":3.1,"b":2.78},{"t":"8.2","a":2.2,"b":2.23}]},"mark":{"type":"rect","width":18,"height":12,"fill":"white","stroke":"#333","strokeWidth":0.7}},
{"data":{"name":"lc"},"mark":{"type":"text","fontSize":7,"color":"#222"},"encoding":{"text":{"field":"t"}}},
{"data":{"values":[{"a":2,"b":2},{"a":2,"b":10},{"a":10,"b":2},{"a":10,"b":10},{"a":6,"b":6}]},"mark":{"type":"point","filled":true,"size":95,"opacity":1,"color":"#b00000","stroke":"#600","strokeWidth":0.7}},
{"data":{"values":[{"t":"3","a":5.85,"b":6}]},"mark":{"type":"text","fontSize":6,"color":"#222"},"encoding":{"text":{"field":"t"}}}
]},
{"width":987.4,"height":635,"resolve":{"scale":{"color":"independent"}},"encoding":{"x":{"field":"x","type":"quantitative","scale":{"domain":[-232.3,1568],"nice":false,"zero":false},"axis":null},"y":{"field":"y","type":"quantitative","scale":{"domain":[1568,12.2],"nice":false,"zero":false},"axis":null}},"layer":[
{"data":{"values":[
{"x":603,"y":322,"x2":1064,"y2":224},{"x":1525,"y":322,"x2":1064,"y2":224},{"x":607,"y":393,"x2":1064,"y2":288},{"x":1521,"y":393,"x2":1064,"y2":288},{"x":610,"y":465,"x2":1064,"y2":352},{"x":1518,"y":465,"x2":1064,"y2":352},{"x":613,"y":537,"x2":1064,"y2":416},{"x":1515,"y":537,"x2":1064,"y2":416},{"x":616,"y":608,"x2":1064,"y2":480},{"x":1512,"y":608,"x2":1064,"y2":480},{"x":620,"y":679,"x2":1064,"y2":545},{"x":1508,"y":679,"x2":1064,"y2":545},{"x":625,"y":750,"x2":1064,"y2":610},{"x":1503,"y":750,"x2":1064,"y2":610},
{"x":603,"y":322,"x2":632,"y2":885},{"x":1064,"y":224,"x2":1064,"y2":730},{"x":1525,"y":322,"x2":1497,"y2":885},
{"x":718,"y":296,"x2":734,"y2":715},{"x":833,"y":270,"x2":843,"y2":680},{"x":948,"y":246,"x2":954,"y2":645},{"x":1180,"y":246,"x2":1174,"y2":645},{"x":1295,"y":270,"x2":1285,"y2":680},{"x":1410,"y":296,"x2":1394,"y2":715}
]},"mark":{"type":"rule","color":"#555","strokeWidth":0.8},"encoding":{"x2":{"field":"x2"},"y2":{"field":"y2"}}},
{"data":{"values":[{"x":632,"y":885},{"x":1064,"y":1080},{"x":1497,"y":885},{"x":1064,"y":730},{"x":632,"y":885}]},"mark":{"type":"line","order":false,"fill":"#666666","stroke":"#444","strokeWidth":0.8}},
{"data":{"values":[
{"g":"t","v":7.4,"x":972,"y":766},{"g":"t","v":7.4,"x":1040,"y":760},{"g":"t","v":7.4,"x":1125,"y":752},
{"g":"r","v":7.4,"x":1250,"y":800},{"g":"r","v":7.4,"x":1240,"y":820},{"g":"r","v":7.4,"x":1262,"y":840},{"g":"r","v":7.4,"x":1350,"y":865},{"g":"r","v":7.4,"x":1475,"y":890},
{"g":"l","v":7.4,"x":815,"y":820},{"g":"l","v":7.4,"x":865,"y":850},{"g":"l","v":7.4,"x":860,"y":870},{"g":"l","v":7.4,"x":745,"y":932},
{"g":"a","v":7.6,"x":820,"y":968},{"g":"a","v":7.6,"x":930,"y":935},{"g":"a","v":7.6,"x":1100,"y":918},{"g":"a","v":7.6,"x":1250,"y":918},{"g":"a","v":7.6,"x":1395,"y":930},
{"g":"b","v":7.8,"x":890,"y":1000},{"g":"b","v":7.8,"x":1000,"y":980},{"g":"b","v":7.8,"x":1150,"y":967},{"g":"b","v":7.8,"x":1315,"y":965},
{"g":"c","v":8,"x":955,"y":1030},{"g":"c","v":8,"x":1050,"y":1015},{"g":"c","v":8,"x":1235,"y":1002},
{"g":"d","v":8.2,"x":1010,"y":1053},{"g":"d","v":8.2,"x":1150,"y":1040}
]},"mark":{"type":"line","order":false,"interpolate":"catmull-rom","strokeWidth":1.5},"encoding":{"detail":{"field":"g"},"color":{"field":"v","type":"quantitative","scale":{"domain":[6.184,6.8065,7.429,8.0515,8.674],"range":["#0000ff","#00ffff","#00ff00","#ffff00","#ff0000"]},"legend":null}}},
{"data":{"values":[
{"p":1,"x":620,"y":583,"v":7.27},{"p":1,"x":731,"y":537,"v":7.27},{"p":1,"x":842,"y":545,"v":7.27},{"p":1,"x":731,"y":597,"v":7.27},
{"p":2,"x":731,"y":537,"v":7.36},{"p":2,"x":842,"y":490,"v":7.36},{"p":2,"x":953,"y":497,"v":7.36},{"p":2,"x":842,"y":545,"v":7.36},
{"p":3,"x":842,"y":490,"v":7.48},{"p":3,"x":953,"y":445,"v":7.48},{"p":3,"x":1064,"y":462,"v":7.48},{"p":3,"x":953,"y":497,"v":7.48},
{"p":4,"x":953,"y":445,"v":7.58},{"p":4,"x":1064,"y":400,"v":7.58},{"p":4,"x":1175,"y":441,"v":7.58},{"p":4,"x":1064,"y":462,"v":7.58},
{"p":5,"x":731,"y":597,"v":7.43},{"p":5,"x":842,"y":545,"v":7.43},{"p":5,"x":953,"y":545,"v":7.43},{"p":5,"x":842,"y":597,"v":7.43},
{"p":6,"x":842,"y":545,"v":7.42},{"p":6,"x":953,"y":497,"v":7.42},{"p":6,"x":1064,"y":505,"v":7.42},{"p":6,"x":953,"y":545,"v":7.42},
{"p":7,"x":953,"y":497,"v":7.42},{"p":7,"x":1064,"y":462,"v":7.42},{"p":7,"x":1175,"y":492,"v":7.42},{"p":7,"x":1064,"y":505,"v":7.42},
{"p":8,"x":1064,"y":462,"v":7.42},{"p":8,"x":1175,"y":441,"v":7.42},{"p":8,"x":1287,"y":483,"v":7.42},{"p":8,"x":1175,"y":492,"v":7.42},
{"p":9,"x":842,"y":597,"v":7.5},{"p":9,"x":953,"y":545,"v":7.5},{"p":9,"x":1064,"y":548,"v":7.5},{"p":9,"x":953,"y":587,"v":7.5},
{"p":10,"x":953,"y":545,"v":7.48},{"p":10,"x":1064,"y":505,"v":7.48},{"p":10,"x":1175,"y":530,"v":7.48},{"p":10,"x":1064,"y":548,"v":7.48},
{"p":11,"x":1064,"y":505,"v":7.42},{"p":11,"x":1175,"y":492,"v":7.42},{"p":11,"x":1287,"y":525,"v":7.42},{"p":11,"x":1175,"y":530,"v":7.42},
{"p":12,"x":1175,"y":492,"v":7.37},{"p":12,"x":1287,"y":483,"v":7.37},{"p":12,"x":1398,"y":525,"v":7.37},{"p":12,"x":1287,"y":525,"v":7.37},
{"p":13,"x":953,"y":587,"v":7.7},{"p":13,"x":1064,"y":548,"v":7.7},{"p":13,"x":1175,"y":575,"v":7.7},{"p":13,"x":1064,"y":578,"v":7.7},
{"p":14,"x":1064,"y":548,"v":7.6},{"p":14,"x":1175,"y":530,"v":7.6},{"p":14,"x":1287,"y":572,"v":7.6},{"p":14,"x":1175,"y":575,"v":7.6},
{"p":15,"x":1175,"y":530,"v":7.5},{"p":15,"x":1287,"y":525,"v":7.5},{"p":15,"x":1398,"y":570,"v":7.5},{"p":15,"x":1287,"y":572,"v":7.5},
{"p":16,"x":1287,"y":525,"v":7.39},{"p":16,"x":1398,"y":525,"v":7.39},{"p":16,"x":1510,"y":567,"v":7.39},{"p":16,"x":1398,"y":570,"v":7.39}
]},"mark":{"type":"line","order":false,"strokeWidth":0.6},"encoding":{"detail":{"field":"p"},"fill":{"field":"v","type":"quantitative","scale":{"domain":[6.184,6.8065,7.429,8.0515,8.674],"range":["#0000ff","#00ffff","#00ff00","#ffff00","#ff0000"]},"legend":null},"stroke":{"field":"v","type":"quantitative","scale":{"domain":[6.184,6.8065,7.429,8.0515,8.674],"range":["#0000ff","#00ffff","#00ff00","#ffff00","#ff0000"]},"legend":null}}},
{"data":{"values":[
{"l":"a0","x":1064,"y":578},{"l":"a0","x":842,"y":597},{"l":"a0","x":620,"y":583},{"l":"a1","x":1086,"y":577},{"l":"a1","x":864,"y":588},{"l":"a1","x":642,"y":574},{"l":"a2","x":1109,"y":577},{"l":"a2","x":886,"y":579},{"l":"a2","x":664,"y":565},{"l":"a3","x":1131,"y":576},{"l":"a3","x":909,"y":569},{"l":"a3","x":687,"y":556},{"l":"a4","x":1153,"y":576},{"l":"a4","x":931,"y":560},{"l":"a4","x":709,"y":546},{"l":"a5","x":1176,"y":575},{"l":"a5","x":953,"y":551},{"l":"a5","x":731,"y":537},{"l":"a6","x":1198,"y":574},{"l":"a6","x":975,"y":542},{"l":"a6","x":753,"y":528},{"l":"a7","x":1220,"y":574},{"l":"a7","x":997,"y":533},{"l":"a7","x":775,"y":519},{"l":"a8","x":1242,"y":573},{"l":"a8","x":1020,"y":523},{"l":"a8","x":798,"y":510},{"l":"a9","x":1265,"y":573},{"l":"a9","x":1042,"y":514},{"l":"a9","x":820,"y":501},{"l":"a10","x":1287,"y":572},{"l":"a10","x":1064,"y":505},{"l":"a10","x":842,"y":491},{"l":"a11","x":1309,"y":572},{"l":"a11","x":1086,"y":503},{"l":"a11","x":864,"y":482},{"l":"a12","x":1332,"y":571},{"l":"a12","x":1109,"y":501},{"l":"a12","x":886,"y":473},{"l":"a13","x":1354,"y":571},{"l":"a13","x":1131,"y":498},{"l":"a13","x":909,"y":464},{"l":"a14","x":1376,"y":570},{"l":"a14","x":1153,"y":496},{"l":"a14","x":931,"y":455},{"l":"a15","x":1399,"y":570},{"l":"a15","x":1176,"y":494},{"l":"a15","x":953,"y":446},{"l":"a16","x":1421,"y":569},{"l":"a16","x":1198,"y":492},{"l":"a16","x":975,"y":437},{"l":"a17","x":1443,"y":569},{"l":"a17","x":1220,"y":490},{"l":"a17","x":997,"y":428},{"l":"a18","x":1465,"y":568},{"l":"a18","x":1242,"y":487},{"l":"a18","x":1020,"y":418},{"l":"a19","x":1488,"y":568},{"l":"a19","x":1265,"y":485},{"l":"a19","x":1042,"y":409},{"l":"a20","x":1510,"y":567},{"l":"a20","x":1287,"y":483},{"l":"a20","x":1064,"y":400},
{"l":"b1","x":1042,"y":580},{"l":"b1","x":1265,"y":565},{"l":"b1","x":1488,"y":559},{"l":"b2","x":1020,"y":582},{"l":"b2","x":1242,"y":559},{"l":"b2","x":1465,"y":550},{"l":"b3","x":997,"y":584},{"l":"b3","x":1220,"y":552},{"l":"b3","x":1443,"y":542},{"l":"b4","x":975,"y":586},{"l":"b4","x":1198,"y":545},{"l":"b4","x":1421,"y":533},{"l":"b5","x":953,"y":588},{"l":"b5","x":1176,"y":538},{"l":"b5","x":1399,"y":525},{"l":"b6","x":931,"y":589},{"l":"b6","x":1153,"y":532},{"l":"b6","x":1376,"y":517},{"l":"b7","x":909,"y":591},{"l":"b7","x":1131,"y":525},{"l":"b7","x":1354,"y":508},{"l":"b8","x":886,"y":593},{"l":"b8","x":1109,"y":518},{"l":"b8","x":1332,"y":500},{"l":"b9","x":864,"y":595},{"l":"b9","x":1086,"y":512},{"l":"b9","x":1309,"y":491},{"l":"b10","x":842,"y":597},{"l":"b10","x":1064,"y":505},{"l":"b10","x":1287,"y":483},{"l":"b11","x":820,"y":596},{"l":"b11","x":1042,"y":504},{"l":"b11","x":1265,"y":475},{"l":"b12","x":798,"y":594},{"l":"b12","x":1020,"y":502},{"l":"b12","x":1242,"y":466},{"l":"b13","x":775,"y":593},{"l":"b13","x":997,"y":501},{"l":"b13","x":1220,"y":458},{"l":"b14","x":753,"y":591},{"l":"b14","x":975,"y":499},{"l":"b14","x":1198,"y":450},{"l":"b15","x":731,"y":590},{"l":"b15","x":953,"y":498},{"l":"b15","x":1176,"y":442},{"l":"b16","x":709,"y":589},{"l":"b16","x":931,"y":496},{"l":"b16","x":1153,"y":433},{"l":"b17","x":687,"y":587},{"l":"b17","x":909,"y":495},{"l":"b17","x":1131,"y":425},{"l":"b18","x":664,"y":586},{"l":"b18","x":886,"y":493},{"l":"b18","x":1109,"y":417},{"l":"b19","x":642,"y":584},{"l":"b19","x":864,"y":492},{"l":"b19","x":1086,"y":408},{"l":"b20","x":620,"y":583},{"l":"b20","x":842,"y":490},{"l":"b20","x":1064,"y":400}
]},"mark":{"type":"line","order":false,"color":"#1a1a1a","strokeWidth":0.5,"opacity":0.6},"encoding":{"detail":{"field":"l"}}},
{"data":{"values":[{"x":1064,"y":491,"x2":1064,"y2":505}]},"mark":{"type":"rule","color":"#333","strokeWidth":0.8},"encoding":{"x2":{"field":"x2"},"y2":{"field":"y2"}}},
{"data":{"values":[{"x":632,"y":885},{"x":740,"y":934},{"x":848,"y":983},{"x":956,"y":1031},{"x":1064,"y":1080},{"x":1172,"y":1031},{"x":1280,"y":983},{"x":1388,"y":934},{"x":1497,"y":885},{"x":603,"y":322},{"x":607,"y":393},{"x":610,"y":465},{"x":613,"y":537},{"x":620,"y":679},{"x":625,"y":750}]},"mark":{"type":"point","filled":true,"size":12,"opacity":1,"color":"#111"}},
{"data":{"values":[{"k":"above","x":615,"y":577},{"k":"above","x":1064,"y":491},{"k":"below","x":1512,"y":576},{"k":"above","x":82,"y":94},{"k":"below","x":82,"y":124}]},"mark":{"type":"point","filled":true,"size":100,"opacity":1,"stroke":"#555","strokeWidth":0.7},"encoding":{"color":{"field":"k","type":"nominal","scale":{"domain":["above","below"],"range":["#b00000","#ffc8c8"]},"legend":null}}},
{"data":{"values":[{"x":119,"y":156,"v":6.184},{"x":127,"y":156,"v":6.5},{"x":135,"y":156,"v":6.8},{"x":143,"y":156,"v":7.1},{"x":151,"y":156,"v":7.43},{"x":159,"y":156,"v":7.75},{"x":167,"y":156,"v":8.05},{"x":175,"y":156,"v":8.35},{"x":183,"y":156,"v":8.674}]},"mark":{"type":"rect","width":5,"height":11},"encoding":{"color":{"field":"v","type":"quantitative","scale":{"domain":[6.184,7.429,8.674],"range":["#0000e0","#00e000","#e00000"]},"legend":null}}},
{"data":{"values":[{"x":115,"x2":187,"y":143,"y2":169}]},"mark":{"type":"rect","fillOpacity":0,"stroke":"#333","strokeWidth":0.7},"encoding":{"x2":{"field":"x2"},"y2":{"field":"y2"}}},
{"data":{"values":[{"t":"Factor Coding: Actual","x":60,"y":34},{"t":"Design Points:","x":60,"y":64},{"t":"6.184","x":60,"y":155},{"t":"8.674","x":196,"y":155},{"t":"X1 = A: Conc of Chitosan","x":60,"y":215},{"t":"X2 = B: HPMC K 100 M","x":60,"y":246},{"t":"C: Sodium CMC  = 6","x":60,"y":337}]},"mark":{"type":"text","align":"left","baseline":"middle","fontSize":11,"color":"#333"},"encoding":{"text":{"field":"t"}}},
{"data":{"values":[{"t":"Above Surface","x":104,"y":94},{"t":"Below Surface","x":104,"y":124}]},"mark":{"type":"text","align":"left","baseline":"middle","fontSize":11,"color":"#e01010"},"encoding":{"text":{"field":"t"}}},
{"data":{"values":[{"t":"Actual Factor","x":60,"y":306}]},"mark":{"type":"text","align":"left","baseline":"middle","fontSize":11,"fontWeight":"bold","color":"#222"},"encoding":{"text":{"field":"t"}}},
{"data":{"values":[{"t":"9","x":583,"y":308},{"t":"8.5","x":581,"y":380},{"t":"8","x":591,"y":452},{"t":"7.5","x":587,"y":523},{"t":"7","x":598,"y":594},{"t":"6.5","x":595,"y":665},{"t":"6","x":605,"y":737},{"t":"10","x":607,"y":897},{"t":"8","x":720,"y":946},{"t":"6","x":827,"y":995},{"t":"4","x":937,"y":1043},{"t":"2","x":1046,"y":1093},{"t":"2","x":1082,"y":1093},{"t":"4","x":1189,"y":1043},{"t":"6","x":1297,"y":995},{"t":"8","x":1405,"y":946},{"t":"10","x":1520,"y":897}]},"mark":{"type":"text","fontSize":10.5,"color":"#333"},"encoding":{"text":{"field":"t"}}},
{"data":{"values":[{"t":"B: HPMC K 100 M  (mg)","x":681,"y":1050},{"t":"A: Conc of Chitosan (mg)","x":1444,"y":1050}]},"mark":{"type":"text","fontSize":11.4,"color":"#333"},"encoding":{"text":{"field":"t"}}},
{"data":{"values":[{"t":"Mucoadhesive strength  (%)","x":456,"y":612}]},"mark":{"type":"text","angle":270,"fontSize":9.5,"color":"#333"},"encoding":{"text":{"field":"t"}}},
{"data":{"values":[{"t":"3D Surface","x":1140,"y":62}]},"mark":{"type":"text","fontSize":18,"color":"#333"},"encoding":{"text":{"field":"t"}}},
{"data":{"values":[{"t":"(f)","x":1048,"y":1516}]},"mark":{"type":"text","fontSize":34,"fontWeight":"bold","color":"#111"},"encoding":{"text":{"field":"t"}}}
]}
],"spacing":0,"bounds":"flush","resolve":{"scale":{"color":"independent","fill":"independent","stroke":"independent"}}}
]}
